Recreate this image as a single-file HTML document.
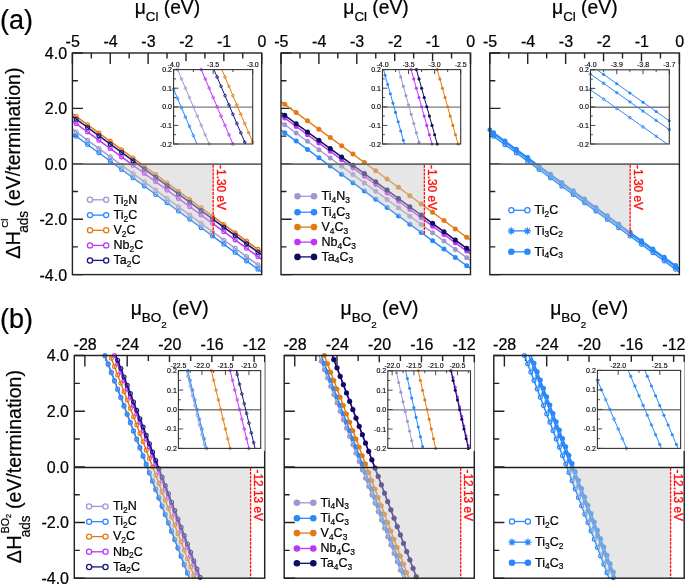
<!DOCTYPE html>
<html><head><meta charset="utf-8"><title>Figure</title>
<style>html,body{margin:0;padding:0;background:#fff;width:685px;height:585px;overflow:hidden}
svg{display:block;will-change:transform;font-family:"Liberation Sans", sans-serif}</style></head>
<body><svg width="685" height="585" viewBox="0 0 685 585" font-family='"Liberation Sans", sans-serif'><defs><clipPath id="c1"><rect x="72.4" y="53" width="189.3" height="221.6"/></clipPath><clipPath id="c2"><rect x="281" y="53" width="189.5" height="221.6"/></clipPath><clipPath id="c3"><rect x="489.8" y="53" width="189.6" height="221.6"/></clipPath><clipPath id="c4"><rect x="74.3" y="355.5" width="190.4" height="222.7"/></clipPath><clipPath id="c5"><rect x="284.2" y="355.5" width="190.1" height="222.7"/></clipPath><clipPath id="c6"><rect x="493.8" y="355.5" width="190.4" height="222.7"/></clipPath><clipPath id="c7"><rect x="173.6" y="69.6" width="79.1" height="74.4"/></clipPath><clipPath id="c8"><rect x="382.5" y="69.6" width="78.2" height="74.4"/></clipPath><clipPath id="c9"><rect x="590.5" y="69.8" width="78.8" height="74.2"/></clipPath><clipPath id="c10"><rect x="178.4" y="370.6" width="82.3" height="77.8"/></clipPath><clipPath id="c11"><rect x="387.8" y="370.8" width="82.7" height="77.6"/></clipPath><clipPath id="c12"><rect x="597.4" y="370.4" width="83.2" height="78"/></clipPath></defs><rect width="685" height="585" fill="#fff"/><path d="M72.4 53V64M110.26 53V64M148.12 53V64M185.98 53V64M223.84 53V64M261.7 53V64M91.33 53V58.5M129.19 53V58.5M167.05 53V58.5M204.91 53V58.5M242.77 53V58.5M72.4 53H83M72.4 108.4H83M72.4 163.8H83M72.4 219.2H83M72.4 274.6H83M72.4 80.7H77.9M72.4 136.1H77.9M72.4 191.5H77.9M72.4 246.9H77.9" stroke="#222222" stroke-width="1.4" fill="none"/>
<line x1="72.4" y1="129.18" x2="261.7" y2="267.68" stroke="#9a9ad2" stroke-width="1.45" clip-path="url(#c1)"/>
<circle cx="76.19" cy="131.94" r="1.95" fill="none" stroke="#9a9ad2" stroke-width="1.15"/>
<circle cx="87.54" cy="140.25" r="1.95" fill="none" stroke="#9a9ad2" stroke-width="1.15"/>
<circle cx="98.9" cy="148.56" r="1.95" fill="none" stroke="#9a9ad2" stroke-width="1.15"/>
<circle cx="110.26" cy="156.88" r="1.95" fill="none" stroke="#9a9ad2" stroke-width="1.15"/>
<circle cx="121.62" cy="165.19" r="1.95" fill="none" stroke="#9a9ad2" stroke-width="1.15"/>
<circle cx="132.98" cy="173.5" r="1.95" fill="none" stroke="#9a9ad2" stroke-width="1.15"/>
<circle cx="144.33" cy="181.81" r="1.95" fill="none" stroke="#9a9ad2" stroke-width="1.15"/>
<circle cx="155.69" cy="190.11" r="1.95" fill="none" stroke="#9a9ad2" stroke-width="1.15"/>
<circle cx="167.05" cy="198.43" r="1.95" fill="none" stroke="#9a9ad2" stroke-width="1.15"/>
<circle cx="178.41" cy="206.73" r="1.95" fill="none" stroke="#9a9ad2" stroke-width="1.15"/>
<circle cx="189.77" cy="215.05" r="1.95" fill="none" stroke="#9a9ad2" stroke-width="1.15"/>
<circle cx="201.12" cy="223.35" r="1.95" fill="none" stroke="#9a9ad2" stroke-width="1.15"/>
<circle cx="212.48" cy="231.66" r="1.95" fill="none" stroke="#9a9ad2" stroke-width="1.15"/>
<circle cx="223.84" cy="239.98" r="1.95" fill="none" stroke="#9a9ad2" stroke-width="1.15"/>
<circle cx="235.2" cy="248.29" r="1.95" fill="none" stroke="#9a9ad2" stroke-width="1.15"/>
<circle cx="246.56" cy="256.6" r="1.95" fill="none" stroke="#9a9ad2" stroke-width="1.15"/>
<circle cx="257.91" cy="264.9" r="1.95" fill="none" stroke="#9a9ad2" stroke-width="1.15"/>
<line x1="72.4" y1="133.47" x2="261.7" y2="271.97" stroke="#2a88f8" stroke-width="1.45" clip-path="url(#c1)"/>
<circle cx="76.19" cy="136.24" r="1.95" fill="none" stroke="#2a88f8" stroke-width="1.15"/>
<circle cx="87.54" cy="144.55" r="1.95" fill="none" stroke="#2a88f8" stroke-width="1.15"/>
<circle cx="98.9" cy="152.86" r="1.95" fill="none" stroke="#2a88f8" stroke-width="1.15"/>
<circle cx="110.26" cy="161.17" r="1.95" fill="none" stroke="#2a88f8" stroke-width="1.15"/>
<circle cx="121.62" cy="169.48" r="1.95" fill="none" stroke="#2a88f8" stroke-width="1.15"/>
<circle cx="132.98" cy="177.79" r="1.95" fill="none" stroke="#2a88f8" stroke-width="1.15"/>
<circle cx="144.33" cy="186.1" r="1.95" fill="none" stroke="#2a88f8" stroke-width="1.15"/>
<circle cx="155.69" cy="194.41" r="1.95" fill="none" stroke="#2a88f8" stroke-width="1.15"/>
<circle cx="167.05" cy="202.72" r="1.95" fill="none" stroke="#2a88f8" stroke-width="1.15"/>
<circle cx="178.41" cy="211.03" r="1.95" fill="none" stroke="#2a88f8" stroke-width="1.15"/>
<circle cx="189.77" cy="219.34" r="1.95" fill="none" stroke="#2a88f8" stroke-width="1.15"/>
<circle cx="201.12" cy="227.65" r="1.95" fill="none" stroke="#2a88f8" stroke-width="1.15"/>
<circle cx="212.48" cy="235.96" r="1.95" fill="none" stroke="#2a88f8" stroke-width="1.15"/>
<circle cx="223.84" cy="244.27" r="1.95" fill="none" stroke="#2a88f8" stroke-width="1.15"/>
<circle cx="235.2" cy="252.58" r="1.95" fill="none" stroke="#2a88f8" stroke-width="1.15"/>
<circle cx="246.56" cy="260.89" r="1.95" fill="none" stroke="#2a88f8" stroke-width="1.15"/>
<circle cx="257.91" cy="269.2" r="1.95" fill="none" stroke="#2a88f8" stroke-width="1.15"/>
<line x1="72.4" y1="113.66" x2="261.7" y2="252.16" stroke="#e27a14" stroke-width="1.45" clip-path="url(#c1)"/>
<circle cx="76.19" cy="116.43" r="1.95" fill="none" stroke="#e27a14" stroke-width="1.15"/>
<circle cx="87.54" cy="124.74" r="1.95" fill="none" stroke="#e27a14" stroke-width="1.15"/>
<circle cx="98.9" cy="133.05" r="1.95" fill="none" stroke="#e27a14" stroke-width="1.15"/>
<circle cx="110.26" cy="141.36" r="1.95" fill="none" stroke="#e27a14" stroke-width="1.15"/>
<circle cx="121.62" cy="149.67" r="1.95" fill="none" stroke="#e27a14" stroke-width="1.15"/>
<circle cx="132.98" cy="157.98" r="1.95" fill="none" stroke="#e27a14" stroke-width="1.15"/>
<circle cx="144.33" cy="166.29" r="1.95" fill="none" stroke="#e27a14" stroke-width="1.15"/>
<circle cx="155.69" cy="174.6" r="1.95" fill="none" stroke="#e27a14" stroke-width="1.15"/>
<circle cx="167.05" cy="182.91" r="1.95" fill="none" stroke="#e27a14" stroke-width="1.15"/>
<circle cx="178.41" cy="191.22" r="1.95" fill="none" stroke="#e27a14" stroke-width="1.15"/>
<circle cx="189.77" cy="199.53" r="1.95" fill="none" stroke="#e27a14" stroke-width="1.15"/>
<circle cx="201.12" cy="207.84" r="1.95" fill="none" stroke="#e27a14" stroke-width="1.15"/>
<circle cx="212.48" cy="216.15" r="1.95" fill="none" stroke="#e27a14" stroke-width="1.15"/>
<circle cx="223.84" cy="224.46" r="1.95" fill="none" stroke="#e27a14" stroke-width="1.15"/>
<circle cx="235.2" cy="232.77" r="1.95" fill="none" stroke="#e27a14" stroke-width="1.15"/>
<circle cx="246.56" cy="241.08" r="1.95" fill="none" stroke="#e27a14" stroke-width="1.15"/>
<circle cx="257.91" cy="249.39" r="1.95" fill="none" stroke="#e27a14" stroke-width="1.15"/>
<line x1="72.4" y1="120.87" x2="261.7" y2="259.37" stroke="#bd36f6" stroke-width="1.45" clip-path="url(#c1)"/>
<circle cx="76.19" cy="123.64" r="1.95" fill="none" stroke="#bd36f6" stroke-width="1.15"/>
<circle cx="87.54" cy="131.94" r="1.95" fill="none" stroke="#bd36f6" stroke-width="1.15"/>
<circle cx="98.9" cy="140.25" r="1.95" fill="none" stroke="#bd36f6" stroke-width="1.15"/>
<circle cx="110.26" cy="148.56" r="1.95" fill="none" stroke="#bd36f6" stroke-width="1.15"/>
<circle cx="121.62" cy="156.88" r="1.95" fill="none" stroke="#bd36f6" stroke-width="1.15"/>
<circle cx="132.98" cy="165.19" r="1.95" fill="none" stroke="#bd36f6" stroke-width="1.15"/>
<circle cx="144.33" cy="173.5" r="1.95" fill="none" stroke="#bd36f6" stroke-width="1.15"/>
<circle cx="155.69" cy="181.81" r="1.95" fill="none" stroke="#bd36f6" stroke-width="1.15"/>
<circle cx="167.05" cy="190.11" r="1.95" fill="none" stroke="#bd36f6" stroke-width="1.15"/>
<circle cx="178.41" cy="198.43" r="1.95" fill="none" stroke="#bd36f6" stroke-width="1.15"/>
<circle cx="189.77" cy="206.74" r="1.95" fill="none" stroke="#bd36f6" stroke-width="1.15"/>
<circle cx="201.12" cy="215.05" r="1.95" fill="none" stroke="#bd36f6" stroke-width="1.15"/>
<circle cx="212.48" cy="223.35" r="1.95" fill="none" stroke="#bd36f6" stroke-width="1.15"/>
<circle cx="223.84" cy="231.66" r="1.95" fill="none" stroke="#bd36f6" stroke-width="1.15"/>
<circle cx="235.2" cy="239.98" r="1.95" fill="none" stroke="#bd36f6" stroke-width="1.15"/>
<circle cx="246.56" cy="248.29" r="1.95" fill="none" stroke="#bd36f6" stroke-width="1.15"/>
<circle cx="257.91" cy="256.6" r="1.95" fill="none" stroke="#bd36f6" stroke-width="1.15"/>
<line x1="72.4" y1="116.43" x2="261.7" y2="254.93" stroke="#14147a" stroke-width="1.45" clip-path="url(#c1)"/>
<circle cx="76.19" cy="119.2" r="1.95" fill="none" stroke="#14147a" stroke-width="1.15"/>
<circle cx="87.54" cy="127.51" r="1.95" fill="none" stroke="#14147a" stroke-width="1.15"/>
<circle cx="98.9" cy="135.82" r="1.95" fill="none" stroke="#14147a" stroke-width="1.15"/>
<circle cx="110.26" cy="144.13" r="1.95" fill="none" stroke="#14147a" stroke-width="1.15"/>
<circle cx="121.62" cy="152.44" r="1.95" fill="none" stroke="#14147a" stroke-width="1.15"/>
<circle cx="132.98" cy="160.75" r="1.95" fill="none" stroke="#14147a" stroke-width="1.15"/>
<circle cx="144.33" cy="169.06" r="1.95" fill="none" stroke="#14147a" stroke-width="1.15"/>
<circle cx="155.69" cy="177.37" r="1.95" fill="none" stroke="#14147a" stroke-width="1.15"/>
<circle cx="167.05" cy="185.68" r="1.95" fill="none" stroke="#14147a" stroke-width="1.15"/>
<circle cx="178.41" cy="193.99" r="1.95" fill="none" stroke="#14147a" stroke-width="1.15"/>
<circle cx="189.77" cy="202.3" r="1.95" fill="none" stroke="#14147a" stroke-width="1.15"/>
<circle cx="201.12" cy="210.61" r="1.95" fill="none" stroke="#14147a" stroke-width="1.15"/>
<circle cx="212.48" cy="218.92" r="1.95" fill="none" stroke="#14147a" stroke-width="1.15"/>
<circle cx="223.84" cy="227.23" r="1.95" fill="none" stroke="#14147a" stroke-width="1.15"/>
<circle cx="235.2" cy="235.54" r="1.95" fill="none" stroke="#14147a" stroke-width="1.15"/>
<circle cx="246.56" cy="243.85" r="1.95" fill="none" stroke="#14147a" stroke-width="1.15"/>
<circle cx="257.91" cy="252.16" r="1.95" fill="none" stroke="#14147a" stroke-width="1.15"/>
<polygon points="113.86,163.8 213.2,163.8 213.2,236.48" fill="#c8c8c8" fill-opacity="0.45"/>
<line x1="72.4" y1="164.1" x2="261.7" y2="164.1" stroke="#686868" stroke-width="1.8"/>
<line x1="213.2" y1="164.8" x2="213.2" y2="236.48" stroke="#ff1010" stroke-width="1.3" stroke-dasharray="2.9 1.0"/>
<rect x="72.4" y="53" width="189.3" height="221.6" fill="none" stroke="#222222" stroke-width="1.4"/>
<text x="72.7" y="47.2" font-size="16" text-anchor="middle" fill="#000000" stroke="#000000" stroke-width="0.22">-5</text>
<text x="110.56" y="47.2" font-size="16" text-anchor="middle" fill="#000000" stroke="#000000" stroke-width="0.22">-4</text>
<text x="148.42" y="47.2" font-size="16" text-anchor="middle" fill="#000000" stroke="#000000" stroke-width="0.22">-3</text>
<text x="186.28" y="47.2" font-size="16" text-anchor="middle" fill="#000000" stroke="#000000" stroke-width="0.22">-2</text>
<text x="224.14" y="47.2" font-size="16" text-anchor="middle" fill="#000000" stroke="#000000" stroke-width="0.22">-1</text>
<text x="262" y="47.2" font-size="16" text-anchor="middle" fill="#000000" stroke="#000000" stroke-width="0.22">0</text>
<text x="67.1" y="58.9" font-size="16" text-anchor="end" fill="#000000" stroke="#000000" stroke-width="0.22">4.0</text>
<text x="67.1" y="114.3" font-size="16" text-anchor="end" fill="#000000" stroke="#000000" stroke-width="0.22">2.0</text>
<text x="67.1" y="169.7" font-size="16" text-anchor="end" fill="#000000" stroke="#000000" stroke-width="0.22">0.0</text>
<text x="67.1" y="225.1" font-size="16" text-anchor="end" fill="#000000" stroke="#000000" stroke-width="0.22">-2.0</text>
<text x="67.1" y="280.5" font-size="16" text-anchor="end" fill="#000000" stroke="#000000" stroke-width="0.22">-4.0</text>
<text x="216.7" y="165.1" font-size="11.9" fill="#ff1010" stroke="#ff1010" stroke-width="0.35" transform="rotate(90 216.7 165.1)">-1.30 eV</text>
<path d="M281 53V64M318.9 53V64M356.8 53V64M394.7 53V64M432.6 53V64M470.5 53V64M299.95 53V58.5M337.85 53V58.5M375.75 53V58.5M413.65 53V58.5M451.55 53V58.5M281 53H291.6M281 108.4H291.6M281 163.8H291.6M281 219.2H291.6M281 274.6H291.6M281 80.7H286.5M281 136.1H286.5M281 191.5H286.5M281 246.9H286.5" stroke="#222222" stroke-width="1.4" fill="none"/>
<line x1="281" y1="121.97" x2="470.5" y2="260.47" stroke="#9a9ad2" stroke-width="1.45" clip-path="url(#c2)"/>
<circle cx="284.79" cy="124.74" r="2.5" fill="#9a9ad2"/>
<circle cx="296.16" cy="133.05" r="2.5" fill="#9a9ad2"/>
<circle cx="307.53" cy="141.36" r="2.5" fill="#9a9ad2"/>
<circle cx="318.9" cy="149.67" r="2.5" fill="#9a9ad2"/>
<circle cx="330.27" cy="157.98" r="2.5" fill="#9a9ad2"/>
<circle cx="341.64" cy="166.29" r="2.5" fill="#9a9ad2"/>
<circle cx="353.01" cy="174.6" r="2.5" fill="#9a9ad2"/>
<circle cx="364.38" cy="182.91" r="2.5" fill="#9a9ad2"/>
<circle cx="375.75" cy="191.22" r="2.5" fill="#9a9ad2"/>
<circle cx="387.12" cy="199.53" r="2.5" fill="#9a9ad2"/>
<circle cx="398.49" cy="207.84" r="2.5" fill="#9a9ad2"/>
<circle cx="409.86" cy="216.15" r="2.5" fill="#9a9ad2"/>
<circle cx="421.23" cy="224.46" r="2.5" fill="#9a9ad2"/>
<circle cx="432.6" cy="232.77" r="2.5" fill="#9a9ad2"/>
<circle cx="443.97" cy="241.08" r="2.5" fill="#9a9ad2"/>
<circle cx="455.34" cy="249.39" r="2.5" fill="#9a9ad2"/>
<circle cx="466.71" cy="257.7" r="2.5" fill="#9a9ad2"/>
<line x1="281" y1="130.01" x2="470.5" y2="268.51" stroke="#2a88f8" stroke-width="1.45" clip-path="url(#c2)"/>
<circle cx="284.79" cy="132.78" r="2.5" fill="#2a88f8"/>
<circle cx="296.16" cy="141.09" r="2.5" fill="#2a88f8"/>
<circle cx="307.53" cy="149.4" r="2.5" fill="#2a88f8"/>
<circle cx="318.9" cy="157.71" r="2.5" fill="#2a88f8"/>
<circle cx="330.27" cy="166.02" r="2.5" fill="#2a88f8"/>
<circle cx="341.64" cy="174.33" r="2.5" fill="#2a88f8"/>
<circle cx="353.01" cy="182.64" r="2.5" fill="#2a88f8"/>
<circle cx="364.38" cy="190.95" r="2.5" fill="#2a88f8"/>
<circle cx="375.75" cy="199.26" r="2.5" fill="#2a88f8"/>
<circle cx="387.12" cy="207.57" r="2.5" fill="#2a88f8"/>
<circle cx="398.49" cy="215.88" r="2.5" fill="#2a88f8"/>
<circle cx="409.86" cy="224.19" r="2.5" fill="#2a88f8"/>
<circle cx="421.23" cy="232.5" r="2.5" fill="#2a88f8"/>
<circle cx="432.6" cy="240.81" r="2.5" fill="#2a88f8"/>
<circle cx="443.97" cy="249.12" r="2.5" fill="#2a88f8"/>
<circle cx="455.34" cy="257.43" r="2.5" fill="#2a88f8"/>
<circle cx="466.71" cy="265.74" r="2.5" fill="#2a88f8"/>
<line x1="281" y1="101.48" x2="470.5" y2="239.98" stroke="#e27a14" stroke-width="1.45" clip-path="url(#c2)"/>
<circle cx="284.79" cy="104.25" r="2.5" fill="#e27a14"/>
<circle cx="296.16" cy="112.55" r="2.5" fill="#e27a14"/>
<circle cx="307.53" cy="120.86" r="2.5" fill="#e27a14"/>
<circle cx="318.9" cy="129.18" r="2.5" fill="#e27a14"/>
<circle cx="330.27" cy="137.49" r="2.5" fill="#e27a14"/>
<circle cx="341.64" cy="145.8" r="2.5" fill="#e27a14"/>
<circle cx="353.01" cy="154.1" r="2.5" fill="#e27a14"/>
<circle cx="364.38" cy="162.42" r="2.5" fill="#e27a14"/>
<circle cx="375.75" cy="170.73" r="2.5" fill="#e27a14"/>
<circle cx="387.12" cy="179.03" r="2.5" fill="#e27a14"/>
<circle cx="398.49" cy="187.34" r="2.5" fill="#e27a14"/>
<circle cx="409.86" cy="195.66" r="2.5" fill="#e27a14"/>
<circle cx="421.23" cy="203.97" r="2.5" fill="#e27a14"/>
<circle cx="432.6" cy="212.28" r="2.5" fill="#e27a14"/>
<circle cx="443.97" cy="220.59" r="2.5" fill="#e27a14"/>
<circle cx="455.34" cy="228.9" r="2.5" fill="#e27a14"/>
<circle cx="466.71" cy="237.21" r="2.5" fill="#e27a14"/>
<line x1="281" y1="115.33" x2="470.5" y2="253.83" stroke="#bd36f6" stroke-width="1.45" clip-path="url(#c2)"/>
<circle cx="284.79" cy="118.09" r="2.5" fill="#bd36f6"/>
<circle cx="296.16" cy="126.4" r="2.5" fill="#bd36f6"/>
<circle cx="307.53" cy="134.71" r="2.5" fill="#bd36f6"/>
<circle cx="318.9" cy="143.03" r="2.5" fill="#bd36f6"/>
<circle cx="330.27" cy="151.34" r="2.5" fill="#bd36f6"/>
<circle cx="341.64" cy="159.64" r="2.5" fill="#bd36f6"/>
<circle cx="353.01" cy="167.95" r="2.5" fill="#bd36f6"/>
<circle cx="364.38" cy="176.26" r="2.5" fill="#bd36f6"/>
<circle cx="375.75" cy="184.58" r="2.5" fill="#bd36f6"/>
<circle cx="387.12" cy="192.88" r="2.5" fill="#bd36f6"/>
<circle cx="398.49" cy="201.19" r="2.5" fill="#bd36f6"/>
<circle cx="409.86" cy="209.5" r="2.5" fill="#bd36f6"/>
<circle cx="421.23" cy="217.81" r="2.5" fill="#bd36f6"/>
<circle cx="432.6" cy="226.13" r="2.5" fill="#bd36f6"/>
<circle cx="443.97" cy="234.44" r="2.5" fill="#bd36f6"/>
<circle cx="455.34" cy="242.75" r="2.5" fill="#bd36f6"/>
<circle cx="466.71" cy="251.06" r="2.5" fill="#bd36f6"/>
<line x1="281" y1="112.56" x2="470.5" y2="251.06" stroke="#0c0c62" stroke-width="1.45" clip-path="url(#c2)"/>
<circle cx="284.79" cy="115.32" r="2.5" fill="#0c0c62"/>
<circle cx="296.16" cy="123.63" r="2.5" fill="#0c0c62"/>
<circle cx="307.53" cy="131.94" r="2.5" fill="#0c0c62"/>
<circle cx="318.9" cy="140.25" r="2.5" fill="#0c0c62"/>
<circle cx="330.27" cy="148.56" r="2.5" fill="#0c0c62"/>
<circle cx="341.64" cy="156.88" r="2.5" fill="#0c0c62"/>
<circle cx="353.01" cy="165.19" r="2.5" fill="#0c0c62"/>
<circle cx="364.38" cy="173.5" r="2.5" fill="#0c0c62"/>
<circle cx="375.75" cy="181.81" r="2.5" fill="#0c0c62"/>
<circle cx="387.12" cy="190.11" r="2.5" fill="#0c0c62"/>
<circle cx="398.49" cy="198.43" r="2.5" fill="#0c0c62"/>
<circle cx="409.86" cy="206.73" r="2.5" fill="#0c0c62"/>
<circle cx="421.23" cy="215.05" r="2.5" fill="#0c0c62"/>
<circle cx="432.6" cy="223.35" r="2.5" fill="#0c0c62"/>
<circle cx="443.97" cy="231.66" r="2.5" fill="#0c0c62"/>
<circle cx="455.34" cy="239.98" r="2.5" fill="#0c0c62"/>
<circle cx="466.71" cy="248.28" r="2.5" fill="#0c0c62"/>
<polygon points="327.24,163.8 424.4,163.8 424.4,234.81" fill="#c8c8c8" fill-opacity="0.45"/>
<line x1="281" y1="164.1" x2="470.5" y2="164.1" stroke="#686868" stroke-width="1.8"/>
<line x1="424.4" y1="164.8" x2="424.4" y2="234.81" stroke="#ff1010" stroke-width="1.3" stroke-dasharray="2.9 1.0"/>
<rect x="281" y="53" width="189.5" height="221.6" fill="none" stroke="#222222" stroke-width="1.4"/>
<text x="281.3" y="47.2" font-size="16" text-anchor="middle" fill="#000000" stroke="#000000" stroke-width="0.22">-5</text>
<text x="319.2" y="47.2" font-size="16" text-anchor="middle" fill="#000000" stroke="#000000" stroke-width="0.22">-4</text>
<text x="357.1" y="47.2" font-size="16" text-anchor="middle" fill="#000000" stroke="#000000" stroke-width="0.22">-3</text>
<text x="395" y="47.2" font-size="16" text-anchor="middle" fill="#000000" stroke="#000000" stroke-width="0.22">-2</text>
<text x="432.9" y="47.2" font-size="16" text-anchor="middle" fill="#000000" stroke="#000000" stroke-width="0.22">-1</text>
<text x="470.8" y="47.2" font-size="16" text-anchor="middle" fill="#000000" stroke="#000000" stroke-width="0.22">0</text>
<text x="427.9" y="165.1" font-size="11.9" fill="#ff1010" stroke="#ff1010" stroke-width="0.35" transform="rotate(90 427.9 165.1)">-1.30 eV</text>
<path d="M489.8 53V64M527.72 53V64M565.64 53V64M603.56 53V64M641.48 53V64M679.4 53V64M508.76 53V58.5M546.68 53V58.5M584.6 53V58.5M622.52 53V58.5M660.44 53V58.5M489.8 53H500.4M489.8 108.4H500.4M489.8 163.8H500.4M489.8 219.2H500.4M489.8 274.6H500.4M489.8 80.7H495.3M489.8 136.1H495.3M489.8 191.5H495.3M489.8 246.9H495.3" stroke="#222222" stroke-width="1.4" fill="none"/>
<line x1="489.8" y1="133.55" x2="679.4" y2="272.05" stroke="#2a88f8" stroke-width="1.45" clip-path="url(#c3)"/>
<circle cx="493.59" cy="136.32" r="1.95" fill="none" stroke="#2a88f8" stroke-width="1.15"/>
<circle cx="504.97" cy="144.63" r="1.95" fill="none" stroke="#2a88f8" stroke-width="1.15"/>
<circle cx="516.34" cy="152.94" r="1.95" fill="none" stroke="#2a88f8" stroke-width="1.15"/>
<circle cx="527.72" cy="161.25" r="1.95" fill="none" stroke="#2a88f8" stroke-width="1.15"/>
<circle cx="539.1" cy="169.56" r="1.95" fill="none" stroke="#2a88f8" stroke-width="1.15"/>
<circle cx="550.47" cy="177.87" r="1.95" fill="none" stroke="#2a88f8" stroke-width="1.15"/>
<circle cx="561.85" cy="186.18" r="1.95" fill="none" stroke="#2a88f8" stroke-width="1.15"/>
<circle cx="573.22" cy="194.49" r="1.95" fill="none" stroke="#2a88f8" stroke-width="1.15"/>
<circle cx="584.6" cy="202.8" r="1.95" fill="none" stroke="#2a88f8" stroke-width="1.15"/>
<circle cx="595.98" cy="211.11" r="1.95" fill="none" stroke="#2a88f8" stroke-width="1.15"/>
<circle cx="607.35" cy="219.42" r="1.95" fill="none" stroke="#2a88f8" stroke-width="1.15"/>
<circle cx="618.73" cy="227.73" r="1.95" fill="none" stroke="#2a88f8" stroke-width="1.15"/>
<circle cx="630.1" cy="236.04" r="1.95" fill="none" stroke="#2a88f8" stroke-width="1.15"/>
<circle cx="641.48" cy="244.35" r="1.95" fill="none" stroke="#2a88f8" stroke-width="1.15"/>
<circle cx="652.86" cy="252.66" r="1.95" fill="none" stroke="#2a88f8" stroke-width="1.15"/>
<circle cx="664.23" cy="260.97" r="1.95" fill="none" stroke="#2a88f8" stroke-width="1.15"/>
<circle cx="675.61" cy="269.28" r="1.95" fill="none" stroke="#2a88f8" stroke-width="1.15"/>
<line x1="489.8" y1="131.2" x2="679.4" y2="269.7" stroke="#2a88f8" stroke-width="1.45" clip-path="url(#c3)"/>
<path d="M490.99 133.97L496.19 133.97M491.75 132.13L495.43 135.81M493.59 131.37L493.59 136.57M495.43 132.13L491.75 135.81" stroke="#2a88f8" stroke-width="1.15" fill="none"/>
<path d="M502.37 142.28L507.57 142.28M503.13 140.44L506.81 144.12M504.97 139.68L504.97 144.88M506.81 140.44L503.13 144.12" stroke="#2a88f8" stroke-width="1.15" fill="none"/>
<path d="M513.74 150.59L518.94 150.59M514.51 148.75L518.18 152.43M516.34 147.99L516.34 153.19M518.18 148.75L514.51 152.43" stroke="#2a88f8" stroke-width="1.15" fill="none"/>
<path d="M525.12 158.9L530.32 158.9M525.88 157.06L529.56 160.74M527.72 156.3L527.72 161.5M529.56 157.06L525.88 160.74" stroke="#2a88f8" stroke-width="1.15" fill="none"/>
<path d="M536.5 167.21L541.7 167.21M537.26 165.37L540.93 169.05M539.1 164.61L539.1 169.81M540.93 165.37L537.26 169.05" stroke="#2a88f8" stroke-width="1.15" fill="none"/>
<path d="M547.87 175.52L553.07 175.52M548.63 173.68L552.31 177.36M550.47 172.92L550.47 178.12M552.31 173.68L548.63 177.36" stroke="#2a88f8" stroke-width="1.15" fill="none"/>
<path d="M559.25 183.83L564.45 183.83M560.01 181.99L563.69 185.67M561.85 181.23L561.85 186.43M563.69 181.99L560.01 185.67" stroke="#2a88f8" stroke-width="1.15" fill="none"/>
<path d="M570.62 192.14L575.82 192.14M571.39 190.3L575.06 193.98M573.22 189.54L573.22 194.74M575.06 190.3L571.39 193.98" stroke="#2a88f8" stroke-width="1.15" fill="none"/>
<path d="M582 200.45L587.2 200.45M582.76 198.61L586.44 202.29M584.6 197.85L584.6 203.05M586.44 198.61L582.76 202.29" stroke="#2a88f8" stroke-width="1.15" fill="none"/>
<path d="M593.38 208.76L598.58 208.76M594.14 206.92L597.81 210.6M595.98 206.16L595.98 211.36M597.81 206.92L594.14 210.6" stroke="#2a88f8" stroke-width="1.15" fill="none"/>
<path d="M604.75 217.07L609.95 217.07M605.51 215.23L609.19 218.91M607.35 214.47L607.35 219.67M609.19 215.23L605.51 218.91" stroke="#2a88f8" stroke-width="1.15" fill="none"/>
<path d="M616.13 225.38L621.33 225.38M616.89 223.54L620.57 227.22M618.73 222.78L618.73 227.98M620.57 223.54L616.89 227.22" stroke="#2a88f8" stroke-width="1.15" fill="none"/>
<path d="M627.5 233.69L632.7 233.69M628.27 231.85L631.94 235.53M630.1 231.09L630.1 236.29M631.94 231.85L628.27 235.53" stroke="#2a88f8" stroke-width="1.15" fill="none"/>
<path d="M638.88 242L644.08 242M639.64 240.16L643.32 243.84M641.48 239.4L641.48 244.6M643.32 240.16L639.64 243.84" stroke="#2a88f8" stroke-width="1.15" fill="none"/>
<path d="M650.26 250.31L655.46 250.31M651.02 248.47L654.69 252.15M652.86 247.71L652.86 252.91M654.69 248.47L651.02 252.15" stroke="#2a88f8" stroke-width="1.15" fill="none"/>
<path d="M661.63 258.62L666.83 258.62M662.39 256.78L666.07 260.46M664.23 256.02L664.23 261.22M666.07 256.78L662.39 260.46" stroke="#2a88f8" stroke-width="1.15" fill="none"/>
<path d="M673.01 266.93L678.21 266.93M673.77 265.09L677.45 268.77M675.61 264.33L675.61 269.53M677.45 265.09L673.77 268.77" stroke="#2a88f8" stroke-width="1.15" fill="none"/>
<line x1="489.8" y1="129.87" x2="679.4" y2="268.37" stroke="#2a88f8" stroke-width="1.45" clip-path="url(#c3)"/>
<circle cx="493.59" cy="132.64" r="2.5" fill="#2a88f8"/>
<circle cx="504.97" cy="140.95" r="2.5" fill="#2a88f8"/>
<circle cx="516.34" cy="149.26" r="2.5" fill="#2a88f8"/>
<circle cx="527.72" cy="157.57" r="2.5" fill="#2a88f8"/>
<circle cx="539.1" cy="165.88" r="2.5" fill="#2a88f8"/>
<circle cx="550.47" cy="174.19" r="2.5" fill="#2a88f8"/>
<circle cx="561.85" cy="182.5" r="2.5" fill="#2a88f8"/>
<circle cx="573.22" cy="190.81" r="2.5" fill="#2a88f8"/>
<circle cx="584.6" cy="199.12" r="2.5" fill="#2a88f8"/>
<circle cx="595.98" cy="207.43" r="2.5" fill="#2a88f8"/>
<circle cx="607.35" cy="215.74" r="2.5" fill="#2a88f8"/>
<circle cx="618.73" cy="224.05" r="2.5" fill="#2a88f8"/>
<circle cx="630.1" cy="232.36" r="2.5" fill="#2a88f8"/>
<circle cx="641.48" cy="240.67" r="2.5" fill="#2a88f8"/>
<circle cx="652.86" cy="248.98" r="2.5" fill="#2a88f8"/>
<circle cx="664.23" cy="257.29" r="2.5" fill="#2a88f8"/>
<circle cx="675.61" cy="265.6" r="2.5" fill="#2a88f8"/>
<circle cx="489.8" cy="129.87" r="2.45" fill="#2a88f8"/>
<polygon points="531.21,163.8 630.2,163.8 630.2,236.11" fill="#c8c8c8" fill-opacity="0.45"/>
<line x1="489.8" y1="164.1" x2="679.4" y2="164.1" stroke="#686868" stroke-width="1.8"/>
<line x1="630.2" y1="164.8" x2="630.2" y2="236.11" stroke="#ff1010" stroke-width="1.3" stroke-dasharray="2.9 1.0"/>
<rect x="489.8" y="53" width="189.6" height="221.6" fill="none" stroke="#222222" stroke-width="1.4"/>
<text x="490.1" y="47.2" font-size="16" text-anchor="middle" fill="#000000" stroke="#000000" stroke-width="0.22">-5</text>
<text x="528.02" y="47.2" font-size="16" text-anchor="middle" fill="#000000" stroke="#000000" stroke-width="0.22">-4</text>
<text x="565.94" y="47.2" font-size="16" text-anchor="middle" fill="#000000" stroke="#000000" stroke-width="0.22">-3</text>
<text x="603.86" y="47.2" font-size="16" text-anchor="middle" fill="#000000" stroke="#000000" stroke-width="0.22">-2</text>
<text x="641.78" y="47.2" font-size="16" text-anchor="middle" fill="#000000" stroke="#000000" stroke-width="0.22">-1</text>
<text x="679.7" y="47.2" font-size="16" text-anchor="middle" fill="#000000" stroke="#000000" stroke-width="0.22">0</text>
<text x="633.7" y="165.1" font-size="11.9" fill="#ff1010" stroke="#ff1010" stroke-width="0.35" transform="rotate(90 633.7 165.1)">-1.30 eV</text>
<path d="M84.88 355.5V366.5M127.19 355.5V366.5M169.5 355.5V366.5M211.81 355.5V366.5M254.12 355.5V366.5M106.03 355.5V361M148.34 355.5V361M190.66 355.5V361M232.97 355.5V361M74.3 355.5H84.9M74.3 411.18H84.9M74.3 466.85H84.9M74.3 522.53H84.9M74.3 578.2H84.9M74.3 383.34H79.8M74.3 439.01H79.8M74.3 494.69H79.8M74.3 550.36H79.8" stroke="#222222" stroke-width="1.4" fill="none"/>
<line x1="74.3" y1="275.61" x2="264.7" y2="776.68" stroke="#9a9ad2" stroke-width="1.45" clip-path="url(#c4)"/>
<circle cx="104.98" cy="356.34" r="1.95" fill="none" stroke="#9a9ad2" stroke-width="1.15"/>
<circle cx="108.15" cy="364.69" r="1.95" fill="none" stroke="#9a9ad2" stroke-width="1.15"/>
<circle cx="111.32" cy="373.04" r="1.95" fill="none" stroke="#9a9ad2" stroke-width="1.15"/>
<circle cx="114.5" cy="381.39" r="1.95" fill="none" stroke="#9a9ad2" stroke-width="1.15"/>
<circle cx="117.67" cy="389.74" r="1.95" fill="none" stroke="#9a9ad2" stroke-width="1.15"/>
<circle cx="120.84" cy="398.09" r="1.95" fill="none" stroke="#9a9ad2" stroke-width="1.15"/>
<circle cx="124.02" cy="406.44" r="1.95" fill="none" stroke="#9a9ad2" stroke-width="1.15"/>
<circle cx="127.19" cy="414.79" r="1.95" fill="none" stroke="#9a9ad2" stroke-width="1.15"/>
<circle cx="130.36" cy="423.15" r="1.95" fill="none" stroke="#9a9ad2" stroke-width="1.15"/>
<circle cx="133.54" cy="431.5" r="1.95" fill="none" stroke="#9a9ad2" stroke-width="1.15"/>
<circle cx="136.71" cy="439.85" r="1.95" fill="none" stroke="#9a9ad2" stroke-width="1.15"/>
<circle cx="139.88" cy="448.2" r="1.95" fill="none" stroke="#9a9ad2" stroke-width="1.15"/>
<circle cx="143.06" cy="456.55" r="1.95" fill="none" stroke="#9a9ad2" stroke-width="1.15"/>
<circle cx="146.23" cy="464.9" r="1.95" fill="none" stroke="#9a9ad2" stroke-width="1.15"/>
<circle cx="149.4" cy="473.25" r="1.95" fill="none" stroke="#9a9ad2" stroke-width="1.15"/>
<circle cx="152.58" cy="481.6" r="1.95" fill="none" stroke="#9a9ad2" stroke-width="1.15"/>
<circle cx="155.75" cy="489.96" r="1.95" fill="none" stroke="#9a9ad2" stroke-width="1.15"/>
<circle cx="158.92" cy="498.31" r="1.95" fill="none" stroke="#9a9ad2" stroke-width="1.15"/>
<circle cx="162.1" cy="506.66" r="1.95" fill="none" stroke="#9a9ad2" stroke-width="1.15"/>
<circle cx="165.27" cy="515.01" r="1.95" fill="none" stroke="#9a9ad2" stroke-width="1.15"/>
<circle cx="168.44" cy="523.36" r="1.95" fill="none" stroke="#9a9ad2" stroke-width="1.15"/>
<circle cx="171.62" cy="531.71" r="1.95" fill="none" stroke="#9a9ad2" stroke-width="1.15"/>
<circle cx="174.79" cy="540.06" r="1.95" fill="none" stroke="#9a9ad2" stroke-width="1.15"/>
<circle cx="177.96" cy="548.41" r="1.95" fill="none" stroke="#9a9ad2" stroke-width="1.15"/>
<circle cx="181.14" cy="556.77" r="1.95" fill="none" stroke="#9a9ad2" stroke-width="1.15"/>
<circle cx="184.31" cy="565.12" r="1.95" fill="none" stroke="#9a9ad2" stroke-width="1.15"/>
<circle cx="187.48" cy="573.47" r="1.95" fill="none" stroke="#9a9ad2" stroke-width="1.15"/>
<line x1="74.3" y1="274.77" x2="264.7" y2="775.85" stroke="#2a88f8" stroke-width="1.45" clip-path="url(#c4)"/>
<circle cx="104.98" cy="355.5" r="1.95" fill="none" stroke="#2a88f8" stroke-width="1.15"/>
<circle cx="108.15" cy="363.85" r="1.95" fill="none" stroke="#2a88f8" stroke-width="1.15"/>
<circle cx="111.32" cy="372.2" r="1.95" fill="none" stroke="#2a88f8" stroke-width="1.15"/>
<circle cx="114.5" cy="380.55" r="1.95" fill="none" stroke="#2a88f8" stroke-width="1.15"/>
<circle cx="117.67" cy="388.91" r="1.95" fill="none" stroke="#2a88f8" stroke-width="1.15"/>
<circle cx="120.84" cy="397.26" r="1.95" fill="none" stroke="#2a88f8" stroke-width="1.15"/>
<circle cx="124.02" cy="405.61" r="1.95" fill="none" stroke="#2a88f8" stroke-width="1.15"/>
<circle cx="127.19" cy="413.96" r="1.95" fill="none" stroke="#2a88f8" stroke-width="1.15"/>
<circle cx="130.36" cy="422.31" r="1.95" fill="none" stroke="#2a88f8" stroke-width="1.15"/>
<circle cx="133.54" cy="430.66" r="1.95" fill="none" stroke="#2a88f8" stroke-width="1.15"/>
<circle cx="136.71" cy="439.01" r="1.95" fill="none" stroke="#2a88f8" stroke-width="1.15"/>
<circle cx="139.88" cy="447.36" r="1.95" fill="none" stroke="#2a88f8" stroke-width="1.15"/>
<circle cx="143.06" cy="455.72" r="1.95" fill="none" stroke="#2a88f8" stroke-width="1.15"/>
<circle cx="146.23" cy="464.07" r="1.95" fill="none" stroke="#2a88f8" stroke-width="1.15"/>
<circle cx="149.4" cy="472.42" r="1.95" fill="none" stroke="#2a88f8" stroke-width="1.15"/>
<circle cx="152.58" cy="480.77" r="1.95" fill="none" stroke="#2a88f8" stroke-width="1.15"/>
<circle cx="155.75" cy="489.12" r="1.95" fill="none" stroke="#2a88f8" stroke-width="1.15"/>
<circle cx="158.92" cy="497.47" r="1.95" fill="none" stroke="#2a88f8" stroke-width="1.15"/>
<circle cx="162.1" cy="505.82" r="1.95" fill="none" stroke="#2a88f8" stroke-width="1.15"/>
<circle cx="165.27" cy="514.17" r="1.95" fill="none" stroke="#2a88f8" stroke-width="1.15"/>
<circle cx="168.44" cy="522.53" r="1.95" fill="none" stroke="#2a88f8" stroke-width="1.15"/>
<circle cx="171.62" cy="530.88" r="1.95" fill="none" stroke="#2a88f8" stroke-width="1.15"/>
<circle cx="174.79" cy="539.23" r="1.95" fill="none" stroke="#2a88f8" stroke-width="1.15"/>
<circle cx="177.96" cy="547.58" r="1.95" fill="none" stroke="#2a88f8" stroke-width="1.15"/>
<circle cx="181.14" cy="555.93" r="1.95" fill="none" stroke="#2a88f8" stroke-width="1.15"/>
<circle cx="184.31" cy="564.28" r="1.95" fill="none" stroke="#2a88f8" stroke-width="1.15"/>
<circle cx="187.48" cy="572.63" r="1.95" fill="none" stroke="#2a88f8" stroke-width="1.15"/>
<line x1="74.3" y1="260.85" x2="264.7" y2="761.93" stroke="#e27a14" stroke-width="1.45" clip-path="url(#c4)"/>
<circle cx="111.32" cy="358.28" r="1.95" fill="none" stroke="#e27a14" stroke-width="1.15"/>
<circle cx="114.5" cy="366.64" r="1.95" fill="none" stroke="#e27a14" stroke-width="1.15"/>
<circle cx="117.67" cy="374.99" r="1.95" fill="none" stroke="#e27a14" stroke-width="1.15"/>
<circle cx="120.84" cy="383.34" r="1.95" fill="none" stroke="#e27a14" stroke-width="1.15"/>
<circle cx="124.02" cy="391.69" r="1.95" fill="none" stroke="#e27a14" stroke-width="1.15"/>
<circle cx="127.19" cy="400.04" r="1.95" fill="none" stroke="#e27a14" stroke-width="1.15"/>
<circle cx="130.36" cy="408.39" r="1.95" fill="none" stroke="#e27a14" stroke-width="1.15"/>
<circle cx="133.54" cy="416.74" r="1.95" fill="none" stroke="#e27a14" stroke-width="1.15"/>
<circle cx="136.71" cy="425.09" r="1.95" fill="none" stroke="#e27a14" stroke-width="1.15"/>
<circle cx="139.88" cy="433.45" r="1.95" fill="none" stroke="#e27a14" stroke-width="1.15"/>
<circle cx="143.06" cy="441.8" r="1.95" fill="none" stroke="#e27a14" stroke-width="1.15"/>
<circle cx="146.23" cy="450.15" r="1.95" fill="none" stroke="#e27a14" stroke-width="1.15"/>
<circle cx="149.4" cy="458.5" r="1.95" fill="none" stroke="#e27a14" stroke-width="1.15"/>
<circle cx="152.58" cy="466.85" r="1.95" fill="none" stroke="#e27a14" stroke-width="1.15"/>
<circle cx="155.75" cy="475.2" r="1.95" fill="none" stroke="#e27a14" stroke-width="1.15"/>
<circle cx="158.92" cy="483.55" r="1.95" fill="none" stroke="#e27a14" stroke-width="1.15"/>
<circle cx="162.1" cy="491.9" r="1.95" fill="none" stroke="#e27a14" stroke-width="1.15"/>
<circle cx="165.27" cy="500.26" r="1.95" fill="none" stroke="#e27a14" stroke-width="1.15"/>
<circle cx="168.44" cy="508.61" r="1.95" fill="none" stroke="#e27a14" stroke-width="1.15"/>
<circle cx="171.62" cy="516.96" r="1.95" fill="none" stroke="#e27a14" stroke-width="1.15"/>
<circle cx="174.79" cy="525.31" r="1.95" fill="none" stroke="#e27a14" stroke-width="1.15"/>
<circle cx="177.96" cy="533.66" r="1.95" fill="none" stroke="#e27a14" stroke-width="1.15"/>
<circle cx="181.14" cy="542.01" r="1.95" fill="none" stroke="#e27a14" stroke-width="1.15"/>
<circle cx="184.31" cy="550.36" r="1.95" fill="none" stroke="#e27a14" stroke-width="1.15"/>
<circle cx="187.48" cy="558.71" r="1.95" fill="none" stroke="#e27a14" stroke-width="1.15"/>
<circle cx="190.66" cy="567.07" r="1.95" fill="none" stroke="#e27a14" stroke-width="1.15"/>
<circle cx="193.83" cy="575.42" r="1.95" fill="none" stroke="#e27a14" stroke-width="1.15"/>
<line x1="74.3" y1="249.72" x2="264.7" y2="750.79" stroke="#bd36f6" stroke-width="1.45" clip-path="url(#c4)"/>
<circle cx="114.5" cy="355.5" r="1.95" fill="none" stroke="#bd36f6" stroke-width="1.15"/>
<circle cx="117.67" cy="363.85" r="1.95" fill="none" stroke="#bd36f6" stroke-width="1.15"/>
<circle cx="120.84" cy="372.2" r="1.95" fill="none" stroke="#bd36f6" stroke-width="1.15"/>
<circle cx="124.02" cy="380.55" r="1.95" fill="none" stroke="#bd36f6" stroke-width="1.15"/>
<circle cx="127.19" cy="388.9" r="1.95" fill="none" stroke="#bd36f6" stroke-width="1.15"/>
<circle cx="130.36" cy="397.26" r="1.95" fill="none" stroke="#bd36f6" stroke-width="1.15"/>
<circle cx="133.54" cy="405.61" r="1.95" fill="none" stroke="#bd36f6" stroke-width="1.15"/>
<circle cx="136.71" cy="413.96" r="1.95" fill="none" stroke="#bd36f6" stroke-width="1.15"/>
<circle cx="139.88" cy="422.31" r="1.95" fill="none" stroke="#bd36f6" stroke-width="1.15"/>
<circle cx="143.06" cy="430.66" r="1.95" fill="none" stroke="#bd36f6" stroke-width="1.15"/>
<circle cx="146.23" cy="439.01" r="1.95" fill="none" stroke="#bd36f6" stroke-width="1.15"/>
<circle cx="149.4" cy="447.36" r="1.95" fill="none" stroke="#bd36f6" stroke-width="1.15"/>
<circle cx="152.58" cy="455.71" r="1.95" fill="none" stroke="#bd36f6" stroke-width="1.15"/>
<circle cx="155.75" cy="464.07" r="1.95" fill="none" stroke="#bd36f6" stroke-width="1.15"/>
<circle cx="158.92" cy="472.42" r="1.95" fill="none" stroke="#bd36f6" stroke-width="1.15"/>
<circle cx="162.1" cy="480.77" r="1.95" fill="none" stroke="#bd36f6" stroke-width="1.15"/>
<circle cx="165.27" cy="489.12" r="1.95" fill="none" stroke="#bd36f6" stroke-width="1.15"/>
<circle cx="168.44" cy="497.47" r="1.95" fill="none" stroke="#bd36f6" stroke-width="1.15"/>
<circle cx="171.62" cy="505.82" r="1.95" fill="none" stroke="#bd36f6" stroke-width="1.15"/>
<circle cx="174.79" cy="514.17" r="1.95" fill="none" stroke="#bd36f6" stroke-width="1.15"/>
<circle cx="177.96" cy="522.52" r="1.95" fill="none" stroke="#bd36f6" stroke-width="1.15"/>
<circle cx="181.14" cy="530.88" r="1.95" fill="none" stroke="#bd36f6" stroke-width="1.15"/>
<circle cx="184.31" cy="539.23" r="1.95" fill="none" stroke="#bd36f6" stroke-width="1.15"/>
<circle cx="187.48" cy="547.58" r="1.95" fill="none" stroke="#bd36f6" stroke-width="1.15"/>
<circle cx="190.66" cy="555.93" r="1.95" fill="none" stroke="#bd36f6" stroke-width="1.15"/>
<circle cx="193.83" cy="564.28" r="1.95" fill="none" stroke="#bd36f6" stroke-width="1.15"/>
<circle cx="197" cy="572.63" r="1.95" fill="none" stroke="#bd36f6" stroke-width="1.15"/>
<line x1="74.3" y1="246.1" x2="264.7" y2="747.17" stroke="#14147a" stroke-width="1.45" clip-path="url(#c4)"/>
<circle cx="117.67" cy="360.23" r="1.95" fill="none" stroke="#14147a" stroke-width="1.15"/>
<circle cx="120.84" cy="368.58" r="1.95" fill="none" stroke="#14147a" stroke-width="1.15"/>
<circle cx="124.02" cy="376.93" r="1.95" fill="none" stroke="#14147a" stroke-width="1.15"/>
<circle cx="127.19" cy="385.29" r="1.95" fill="none" stroke="#14147a" stroke-width="1.15"/>
<circle cx="130.36" cy="393.64" r="1.95" fill="none" stroke="#14147a" stroke-width="1.15"/>
<circle cx="133.54" cy="401.99" r="1.95" fill="none" stroke="#14147a" stroke-width="1.15"/>
<circle cx="136.71" cy="410.34" r="1.95" fill="none" stroke="#14147a" stroke-width="1.15"/>
<circle cx="139.88" cy="418.69" r="1.95" fill="none" stroke="#14147a" stroke-width="1.15"/>
<circle cx="143.06" cy="427.04" r="1.95" fill="none" stroke="#14147a" stroke-width="1.15"/>
<circle cx="146.23" cy="435.39" r="1.95" fill="none" stroke="#14147a" stroke-width="1.15"/>
<circle cx="149.4" cy="443.74" r="1.95" fill="none" stroke="#14147a" stroke-width="1.15"/>
<circle cx="152.58" cy="452.1" r="1.95" fill="none" stroke="#14147a" stroke-width="1.15"/>
<circle cx="155.75" cy="460.45" r="1.95" fill="none" stroke="#14147a" stroke-width="1.15"/>
<circle cx="158.92" cy="468.8" r="1.95" fill="none" stroke="#14147a" stroke-width="1.15"/>
<circle cx="162.1" cy="477.15" r="1.95" fill="none" stroke="#14147a" stroke-width="1.15"/>
<circle cx="165.27" cy="485.5" r="1.95" fill="none" stroke="#14147a" stroke-width="1.15"/>
<circle cx="168.44" cy="493.85" r="1.95" fill="none" stroke="#14147a" stroke-width="1.15"/>
<circle cx="171.62" cy="502.2" r="1.95" fill="none" stroke="#14147a" stroke-width="1.15"/>
<circle cx="174.79" cy="510.55" r="1.95" fill="none" stroke="#14147a" stroke-width="1.15"/>
<circle cx="177.96" cy="518.91" r="1.95" fill="none" stroke="#14147a" stroke-width="1.15"/>
<circle cx="181.14" cy="527.26" r="1.95" fill="none" stroke="#14147a" stroke-width="1.15"/>
<circle cx="184.31" cy="535.61" r="1.95" fill="none" stroke="#14147a" stroke-width="1.15"/>
<circle cx="187.48" cy="543.96" r="1.95" fill="none" stroke="#14147a" stroke-width="1.15"/>
<circle cx="190.66" cy="552.31" r="1.95" fill="none" stroke="#14147a" stroke-width="1.15"/>
<circle cx="193.83" cy="560.66" r="1.95" fill="none" stroke="#14147a" stroke-width="1.15"/>
<circle cx="197" cy="569.01" r="1.95" fill="none" stroke="#14147a" stroke-width="1.15"/>
<circle cx="200.18" cy="577.36" r="1.95" fill="none" stroke="#14147a" stroke-width="1.15"/>
<polygon points="147.29,466.85 250.6,466.85 250.6,578.2 189.6,578.2" fill="#c8c8c8" fill-opacity="0.45"/>
<line x1="74.3" y1="467.45" x2="264.7" y2="467.45" stroke="#1c1c1c" stroke-width="1.4"/>
<line x1="250.6" y1="467.85" x2="250.6" y2="578.2" stroke="#ff1010" stroke-width="1.3" stroke-dasharray="2.9 1.0"/>
<rect x="74.3" y="355.5" width="190.4" height="222.7" fill="none" stroke="#222222" stroke-width="1.45"/>
<text x="85.18" y="349.7" font-size="16" text-anchor="middle" fill="#000000" stroke="#000000" stroke-width="0.22">-28</text>
<text x="127.49" y="349.7" font-size="16" text-anchor="middle" fill="#000000" stroke="#000000" stroke-width="0.22">-24</text>
<text x="169.8" y="349.7" font-size="16" text-anchor="middle" fill="#000000" stroke="#000000" stroke-width="0.22">-20</text>
<text x="212.11" y="349.7" font-size="16" text-anchor="middle" fill="#000000" stroke="#000000" stroke-width="0.22">-16</text>
<text x="254.42" y="349.7" font-size="16" text-anchor="middle" fill="#000000" stroke="#000000" stroke-width="0.22">-12</text>
<text x="69" y="361.4" font-size="16" text-anchor="end" fill="#000000" stroke="#000000" stroke-width="0.22">4.0</text>
<text x="69" y="417.07" font-size="16" text-anchor="end" fill="#000000" stroke="#000000" stroke-width="0.22">2.0</text>
<text x="69" y="472.75" font-size="16" text-anchor="end" fill="#000000" stroke="#000000" stroke-width="0.22">0.0</text>
<text x="69" y="528.43" font-size="16" text-anchor="end" fill="#000000" stroke="#000000" stroke-width="0.22">-2.0</text>
<text x="69" y="584.1" font-size="16" text-anchor="end" fill="#000000" stroke="#000000" stroke-width="0.22">-4.0</text>
<text x="254.1" y="469.45" font-size="11.9" fill="#ff1010" stroke="#ff1010" stroke-width="0.35" transform="rotate(90 254.1 469.45)">-12.13 eV</text>
<path d="M294.76 355.5V366.5M337.01 355.5V366.5M379.25 355.5V366.5M421.49 355.5V366.5M463.74 355.5V366.5M315.88 355.5V361M358.13 355.5V361M400.37 355.5V361M442.62 355.5V361M284.2 355.5H294.8M284.2 411.18H294.8M284.2 466.85H294.8M284.2 522.53H294.8M284.2 578.2H294.8M284.2 383.34H289.7M284.2 439.01H289.7M284.2 494.69H289.7M284.2 550.36H289.7" stroke="#222222" stroke-width="1.4" fill="none"/>
<line x1="284.2" y1="263.91" x2="474.3" y2="764.99" stroke="#9a9ad2" stroke-width="1.45" clip-path="url(#c5)"/>
<circle cx="321.16" cy="361.35" r="2.5" fill="#9a9ad2"/>
<circle cx="324.33" cy="369.7" r="2.5" fill="#9a9ad2"/>
<circle cx="327.5" cy="378.05" r="2.5" fill="#9a9ad2"/>
<circle cx="330.67" cy="386.4" r="2.5" fill="#9a9ad2"/>
<circle cx="333.84" cy="394.75" r="2.5" fill="#9a9ad2"/>
<circle cx="337.01" cy="403.1" r="2.5" fill="#9a9ad2"/>
<circle cx="340.17" cy="411.45" r="2.5" fill="#9a9ad2"/>
<circle cx="343.34" cy="419.8" r="2.5" fill="#9a9ad2"/>
<circle cx="346.51" cy="428.16" r="2.5" fill="#9a9ad2"/>
<circle cx="349.68" cy="436.51" r="2.5" fill="#9a9ad2"/>
<circle cx="352.85" cy="444.86" r="2.5" fill="#9a9ad2"/>
<circle cx="356.02" cy="453.21" r="2.5" fill="#9a9ad2"/>
<circle cx="359.18" cy="461.56" r="2.5" fill="#9a9ad2"/>
<circle cx="362.35" cy="469.91" r="2.5" fill="#9a9ad2"/>
<circle cx="365.52" cy="478.26" r="2.5" fill="#9a9ad2"/>
<circle cx="368.69" cy="486.61" r="2.5" fill="#9a9ad2"/>
<circle cx="371.86" cy="494.97" r="2.5" fill="#9a9ad2"/>
<circle cx="375.03" cy="503.32" r="2.5" fill="#9a9ad2"/>
<circle cx="378.19" cy="511.67" r="2.5" fill="#9a9ad2"/>
<circle cx="381.36" cy="520.02" r="2.5" fill="#9a9ad2"/>
<circle cx="384.53" cy="528.37" r="2.5" fill="#9a9ad2"/>
<circle cx="387.7" cy="536.72" r="2.5" fill="#9a9ad2"/>
<circle cx="390.87" cy="545.07" r="2.5" fill="#9a9ad2"/>
<circle cx="394.04" cy="553.42" r="2.5" fill="#9a9ad2"/>
<circle cx="397.2" cy="561.78" r="2.5" fill="#9a9ad2"/>
<circle cx="400.37" cy="570.13" r="2.5" fill="#9a9ad2"/>
<line x1="284.2" y1="257.79" x2="474.3" y2="758.87" stroke="#2a88f8" stroke-width="1.45" clip-path="url(#c5)"/>
<circle cx="324.33" cy="363.57" r="2.5" fill="#2a88f8"/>
<circle cx="327.5" cy="371.92" r="2.5" fill="#2a88f8"/>
<circle cx="330.67" cy="380.28" r="2.5" fill="#2a88f8"/>
<circle cx="333.84" cy="388.63" r="2.5" fill="#2a88f8"/>
<circle cx="337.01" cy="396.98" r="2.5" fill="#2a88f8"/>
<circle cx="340.17" cy="405.33" r="2.5" fill="#2a88f8"/>
<circle cx="343.34" cy="413.68" r="2.5" fill="#2a88f8"/>
<circle cx="346.51" cy="422.03" r="2.5" fill="#2a88f8"/>
<circle cx="349.68" cy="430.38" r="2.5" fill="#2a88f8"/>
<circle cx="352.85" cy="438.73" r="2.5" fill="#2a88f8"/>
<circle cx="356.02" cy="447.09" r="2.5" fill="#2a88f8"/>
<circle cx="359.18" cy="455.44" r="2.5" fill="#2a88f8"/>
<circle cx="362.35" cy="463.79" r="2.5" fill="#2a88f8"/>
<circle cx="365.52" cy="472.14" r="2.5" fill="#2a88f8"/>
<circle cx="368.69" cy="480.49" r="2.5" fill="#2a88f8"/>
<circle cx="371.86" cy="488.84" r="2.5" fill="#2a88f8"/>
<circle cx="375.03" cy="497.19" r="2.5" fill="#2a88f8"/>
<circle cx="378.19" cy="505.54" r="2.5" fill="#2a88f8"/>
<circle cx="381.36" cy="513.9" r="2.5" fill="#2a88f8"/>
<circle cx="384.53" cy="522.25" r="2.5" fill="#2a88f8"/>
<circle cx="387.7" cy="530.6" r="2.5" fill="#2a88f8"/>
<circle cx="390.87" cy="538.95" r="2.5" fill="#2a88f8"/>
<circle cx="394.04" cy="547.3" r="2.5" fill="#2a88f8"/>
<circle cx="397.2" cy="555.65" r="2.5" fill="#2a88f8"/>
<circle cx="400.37" cy="564" r="2.5" fill="#2a88f8"/>
<circle cx="403.54" cy="572.35" r="2.5" fill="#2a88f8"/>
<line x1="284.2" y1="249.72" x2="474.3" y2="750.79" stroke="#e27a14" stroke-width="1.45" clip-path="url(#c5)"/>
<circle cx="324.33" cy="355.5" r="2.5" fill="#e27a14"/>
<circle cx="327.5" cy="363.85" r="2.5" fill="#e27a14"/>
<circle cx="330.67" cy="372.2" r="2.5" fill="#e27a14"/>
<circle cx="333.84" cy="380.55" r="2.5" fill="#e27a14"/>
<circle cx="337.01" cy="388.9" r="2.5" fill="#e27a14"/>
<circle cx="340.17" cy="397.26" r="2.5" fill="#e27a14"/>
<circle cx="343.34" cy="405.61" r="2.5" fill="#e27a14"/>
<circle cx="346.51" cy="413.96" r="2.5" fill="#e27a14"/>
<circle cx="349.68" cy="422.31" r="2.5" fill="#e27a14"/>
<circle cx="352.85" cy="430.66" r="2.5" fill="#e27a14"/>
<circle cx="356.02" cy="439.01" r="2.5" fill="#e27a14"/>
<circle cx="359.18" cy="447.36" r="2.5" fill="#e27a14"/>
<circle cx="362.35" cy="455.71" r="2.5" fill="#e27a14"/>
<circle cx="365.52" cy="464.07" r="2.5" fill="#e27a14"/>
<circle cx="368.69" cy="472.42" r="2.5" fill="#e27a14"/>
<circle cx="371.86" cy="480.77" r="2.5" fill="#e27a14"/>
<circle cx="375.03" cy="489.12" r="2.5" fill="#e27a14"/>
<circle cx="378.19" cy="497.47" r="2.5" fill="#e27a14"/>
<circle cx="381.36" cy="505.82" r="2.5" fill="#e27a14"/>
<circle cx="384.53" cy="514.17" r="2.5" fill="#e27a14"/>
<circle cx="387.7" cy="522.52" r="2.5" fill="#e27a14"/>
<circle cx="390.87" cy="530.88" r="2.5" fill="#e27a14"/>
<circle cx="394.04" cy="539.23" r="2.5" fill="#e27a14"/>
<circle cx="397.2" cy="547.58" r="2.5" fill="#e27a14"/>
<circle cx="400.37" cy="555.93" r="2.5" fill="#e27a14"/>
<circle cx="403.54" cy="564.28" r="2.5" fill="#e27a14"/>
<circle cx="406.71" cy="572.63" r="2.5" fill="#e27a14"/>
<line x1="284.2" y1="228.42" x2="474.3" y2="729.5" stroke="#bd36f6" stroke-width="1.45" clip-path="url(#c5)"/>
<circle cx="333.84" cy="359.26" r="2.5" fill="#bd36f6"/>
<circle cx="337.01" cy="367.61" r="2.5" fill="#bd36f6"/>
<circle cx="340.17" cy="375.96" r="2.5" fill="#bd36f6"/>
<circle cx="343.34" cy="384.31" r="2.5" fill="#bd36f6"/>
<circle cx="346.51" cy="392.66" r="2.5" fill="#bd36f6"/>
<circle cx="349.68" cy="401.01" r="2.5" fill="#bd36f6"/>
<circle cx="352.85" cy="409.37" r="2.5" fill="#bd36f6"/>
<circle cx="356.02" cy="417.72" r="2.5" fill="#bd36f6"/>
<circle cx="359.18" cy="426.07" r="2.5" fill="#bd36f6"/>
<circle cx="362.35" cy="434.42" r="2.5" fill="#bd36f6"/>
<circle cx="365.52" cy="442.77" r="2.5" fill="#bd36f6"/>
<circle cx="368.69" cy="451.12" r="2.5" fill="#bd36f6"/>
<circle cx="371.86" cy="459.47" r="2.5" fill="#bd36f6"/>
<circle cx="375.03" cy="467.82" r="2.5" fill="#bd36f6"/>
<circle cx="378.19" cy="476.18" r="2.5" fill="#bd36f6"/>
<circle cx="381.36" cy="484.53" r="2.5" fill="#bd36f6"/>
<circle cx="384.53" cy="492.88" r="2.5" fill="#bd36f6"/>
<circle cx="387.7" cy="501.23" r="2.5" fill="#bd36f6"/>
<circle cx="390.87" cy="509.58" r="2.5" fill="#bd36f6"/>
<circle cx="394.04" cy="517.93" r="2.5" fill="#bd36f6"/>
<circle cx="397.2" cy="526.28" r="2.5" fill="#bd36f6"/>
<circle cx="400.37" cy="534.63" r="2.5" fill="#bd36f6"/>
<circle cx="403.54" cy="542.99" r="2.5" fill="#bd36f6"/>
<circle cx="406.71" cy="551.34" r="2.5" fill="#bd36f6"/>
<circle cx="409.88" cy="559.69" r="2.5" fill="#bd36f6"/>
<circle cx="413.05" cy="568.04" r="2.5" fill="#bd36f6"/>
<circle cx="416.21" cy="576.39" r="2.5" fill="#bd36f6"/>
<line x1="284.2" y1="228.84" x2="474.3" y2="729.91" stroke="#0c0c62" stroke-width="1.45" clip-path="url(#c5)"/>
<circle cx="333.84" cy="359.68" r="2.5" fill="#0c0c62"/>
<circle cx="337.01" cy="368.03" r="2.5" fill="#0c0c62"/>
<circle cx="340.17" cy="376.38" r="2.5" fill="#0c0c62"/>
<circle cx="343.34" cy="384.73" r="2.5" fill="#0c0c62"/>
<circle cx="346.51" cy="393.08" r="2.5" fill="#0c0c62"/>
<circle cx="349.68" cy="401.43" r="2.5" fill="#0c0c62"/>
<circle cx="352.85" cy="409.78" r="2.5" fill="#0c0c62"/>
<circle cx="356.02" cy="418.13" r="2.5" fill="#0c0c62"/>
<circle cx="359.18" cy="426.49" r="2.5" fill="#0c0c62"/>
<circle cx="362.35" cy="434.84" r="2.5" fill="#0c0c62"/>
<circle cx="365.52" cy="443.19" r="2.5" fill="#0c0c62"/>
<circle cx="368.69" cy="451.54" r="2.5" fill="#0c0c62"/>
<circle cx="371.86" cy="459.89" r="2.5" fill="#0c0c62"/>
<circle cx="375.03" cy="468.24" r="2.5" fill="#0c0c62"/>
<circle cx="378.19" cy="476.59" r="2.5" fill="#0c0c62"/>
<circle cx="381.36" cy="484.94" r="2.5" fill="#0c0c62"/>
<circle cx="384.53" cy="493.3" r="2.5" fill="#0c0c62"/>
<circle cx="387.7" cy="501.65" r="2.5" fill="#0c0c62"/>
<circle cx="390.87" cy="510" r="2.5" fill="#0c0c62"/>
<circle cx="394.04" cy="518.35" r="2.5" fill="#0c0c62"/>
<circle cx="397.2" cy="526.7" r="2.5" fill="#0c0c62"/>
<circle cx="400.37" cy="535.05" r="2.5" fill="#0c0c62"/>
<circle cx="403.54" cy="543.4" r="2.5" fill="#0c0c62"/>
<circle cx="406.71" cy="551.75" r="2.5" fill="#0c0c62"/>
<circle cx="409.88" cy="560.11" r="2.5" fill="#0c0c62"/>
<circle cx="413.05" cy="568.46" r="2.5" fill="#0c0c62"/>
<circle cx="416.21" cy="576.81" r="2.5" fill="#0c0c62"/>
<polygon points="361.19,466.85 460.7,466.85 460.7,578.2 403.43,578.2" fill="#c8c8c8" fill-opacity="0.45"/>
<line x1="284.2" y1="467.45" x2="474.3" y2="467.45" stroke="#1c1c1c" stroke-width="1.4"/>
<line x1="460.7" y1="467.85" x2="460.7" y2="578.2" stroke="#ff1010" stroke-width="1.3" stroke-dasharray="2.9 1.0"/>
<rect x="284.2" y="355.5" width="190.1" height="222.7" fill="none" stroke="#222222" stroke-width="1.45"/>
<text x="295.06" y="349.7" font-size="16" text-anchor="middle" fill="#000000" stroke="#000000" stroke-width="0.22">-28</text>
<text x="337.31" y="349.7" font-size="16" text-anchor="middle" fill="#000000" stroke="#000000" stroke-width="0.22">-24</text>
<text x="379.55" y="349.7" font-size="16" text-anchor="middle" fill="#000000" stroke="#000000" stroke-width="0.22">-20</text>
<text x="421.79" y="349.7" font-size="16" text-anchor="middle" fill="#000000" stroke="#000000" stroke-width="0.22">-16</text>
<text x="464.04" y="349.7" font-size="16" text-anchor="middle" fill="#000000" stroke="#000000" stroke-width="0.22">-12</text>
<text x="464.2" y="469.45" font-size="11.9" fill="#ff1010" stroke="#ff1010" stroke-width="0.35" transform="rotate(90 464.2 469.45)">-12.13 eV</text>
<path d="M504.38 355.5V366.5M546.69 355.5V366.5M589 355.5V366.5M631.31 355.5V366.5M673.62 355.5V366.5M525.53 355.5V361M567.84 355.5V361M610.16 355.5V361M652.47 355.5V361M493.8 355.5H504.4M493.8 411.18H504.4M493.8 466.85H504.4M493.8 522.53H504.4M493.8 578.2H504.4M493.8 383.34H499.3M493.8 439.01H499.3M493.8 494.69H499.3M493.8 550.36H499.3" stroke="#222222" stroke-width="1.4" fill="none"/>
<line x1="493.8" y1="274.77" x2="684.2" y2="775.85" stroke="#2a88f8" stroke-width="1.45" clip-path="url(#c6)"/>
<circle cx="524.48" cy="355.5" r="1.95" fill="none" stroke="#2a88f8" stroke-width="1.15"/>
<circle cx="527.65" cy="363.85" r="1.95" fill="none" stroke="#2a88f8" stroke-width="1.15"/>
<circle cx="530.82" cy="372.2" r="1.95" fill="none" stroke="#2a88f8" stroke-width="1.15"/>
<circle cx="534" cy="380.55" r="1.95" fill="none" stroke="#2a88f8" stroke-width="1.15"/>
<circle cx="537.17" cy="388.91" r="1.95" fill="none" stroke="#2a88f8" stroke-width="1.15"/>
<circle cx="540.34" cy="397.26" r="1.95" fill="none" stroke="#2a88f8" stroke-width="1.15"/>
<circle cx="543.52" cy="405.61" r="1.95" fill="none" stroke="#2a88f8" stroke-width="1.15"/>
<circle cx="546.69" cy="413.96" r="1.95" fill="none" stroke="#2a88f8" stroke-width="1.15"/>
<circle cx="549.86" cy="422.31" r="1.95" fill="none" stroke="#2a88f8" stroke-width="1.15"/>
<circle cx="553.04" cy="430.66" r="1.95" fill="none" stroke="#2a88f8" stroke-width="1.15"/>
<circle cx="556.21" cy="439.01" r="1.95" fill="none" stroke="#2a88f8" stroke-width="1.15"/>
<circle cx="559.38" cy="447.36" r="1.95" fill="none" stroke="#2a88f8" stroke-width="1.15"/>
<circle cx="562.56" cy="455.72" r="1.95" fill="none" stroke="#2a88f8" stroke-width="1.15"/>
<circle cx="565.73" cy="464.07" r="1.95" fill="none" stroke="#2a88f8" stroke-width="1.15"/>
<circle cx="568.9" cy="472.42" r="1.95" fill="none" stroke="#2a88f8" stroke-width="1.15"/>
<circle cx="572.08" cy="480.77" r="1.95" fill="none" stroke="#2a88f8" stroke-width="1.15"/>
<circle cx="575.25" cy="489.12" r="1.95" fill="none" stroke="#2a88f8" stroke-width="1.15"/>
<circle cx="578.42" cy="497.47" r="1.95" fill="none" stroke="#2a88f8" stroke-width="1.15"/>
<circle cx="581.6" cy="505.82" r="1.95" fill="none" stroke="#2a88f8" stroke-width="1.15"/>
<circle cx="584.77" cy="514.17" r="1.95" fill="none" stroke="#2a88f8" stroke-width="1.15"/>
<circle cx="587.94" cy="522.53" r="1.95" fill="none" stroke="#2a88f8" stroke-width="1.15"/>
<circle cx="591.12" cy="530.88" r="1.95" fill="none" stroke="#2a88f8" stroke-width="1.15"/>
<circle cx="594.29" cy="539.23" r="1.95" fill="none" stroke="#2a88f8" stroke-width="1.15"/>
<circle cx="597.46" cy="547.58" r="1.95" fill="none" stroke="#2a88f8" stroke-width="1.15"/>
<circle cx="600.64" cy="555.93" r="1.95" fill="none" stroke="#2a88f8" stroke-width="1.15"/>
<circle cx="603.81" cy="564.28" r="1.95" fill="none" stroke="#2a88f8" stroke-width="1.15"/>
<circle cx="606.98" cy="572.63" r="1.95" fill="none" stroke="#2a88f8" stroke-width="1.15"/>
<line x1="493.8" y1="263.08" x2="684.2" y2="764.15" stroke="#2a88f8" stroke-width="1.45" clip-path="url(#c6)"/>
<path d="M528.22 360.51L533.42 360.51M528.98 358.67L532.66 362.35M530.82 357.91L530.82 363.11M532.66 358.67L528.98 362.35" stroke="#2a88f8" stroke-width="1.15" fill="none"/>
<path d="M531.4 368.86L536.6 368.86M532.16 367.02L535.83 370.7M534 366.26L534 371.46M535.83 367.02L532.16 370.7" stroke="#2a88f8" stroke-width="1.15" fill="none"/>
<path d="M534.57 377.21L539.77 377.21M535.33 375.37L539.01 379.05M537.17 374.61L537.17 379.81M539.01 375.37L535.33 379.05" stroke="#2a88f8" stroke-width="1.15" fill="none"/>
<path d="M537.74 385.56L542.94 385.56M538.5 383.73L542.18 387.4M540.34 382.96L540.34 388.16M542.18 383.73L538.5 387.4" stroke="#2a88f8" stroke-width="1.15" fill="none"/>
<path d="M540.92 393.92L546.12 393.92M541.68 392.08L545.35 395.75M543.52 391.32L543.52 396.52M545.35 392.08L541.68 395.75" stroke="#2a88f8" stroke-width="1.15" fill="none"/>
<path d="M544.09 402.27L549.29 402.27M544.85 400.43L548.53 404.11M546.69 399.67L546.69 404.87M548.53 400.43L544.85 404.11" stroke="#2a88f8" stroke-width="1.15" fill="none"/>
<path d="M547.26 410.62L552.46 410.62M548.02 408.78L551.7 412.46M549.86 408.02L549.86 413.22M551.7 408.78L548.02 412.46" stroke="#2a88f8" stroke-width="1.15" fill="none"/>
<path d="M550.44 418.97L555.64 418.97M551.2 417.13L554.87 420.81M553.04 416.37L553.04 421.57M554.87 417.13L551.2 420.81" stroke="#2a88f8" stroke-width="1.15" fill="none"/>
<path d="M553.61 427.32L558.81 427.32M554.37 425.48L558.05 429.16M556.21 424.72L556.21 429.92M558.05 425.48L554.37 429.16" stroke="#2a88f8" stroke-width="1.15" fill="none"/>
<path d="M556.78 435.67L561.98 435.67M557.54 433.83L561.22 437.51M559.38 433.07L559.38 438.27M561.22 433.83L557.54 437.51" stroke="#2a88f8" stroke-width="1.15" fill="none"/>
<path d="M559.96 444.02L565.16 444.02M560.72 442.18L564.39 445.86M562.56 441.42L562.56 446.62M564.39 442.18L560.72 445.86" stroke="#2a88f8" stroke-width="1.15" fill="none"/>
<path d="M563.13 452.37L568.33 452.37M563.89 450.54L567.57 454.21M565.73 449.77L565.73 454.97M567.57 450.54L563.89 454.21" stroke="#2a88f8" stroke-width="1.15" fill="none"/>
<path d="M566.3 460.73L571.5 460.73M567.06 458.89L570.74 462.56M568.9 458.13L568.9 463.33M570.74 458.89L567.06 462.56" stroke="#2a88f8" stroke-width="1.15" fill="none"/>
<path d="M569.48 469.08L574.68 469.08M570.24 467.24L573.91 470.92M572.08 466.48L572.08 471.68M573.91 467.24L570.24 470.92" stroke="#2a88f8" stroke-width="1.15" fill="none"/>
<path d="M572.65 477.43L577.85 477.43M573.41 475.59L577.09 479.27M575.25 474.83L575.25 480.03M577.09 475.59L573.41 479.27" stroke="#2a88f8" stroke-width="1.15" fill="none"/>
<path d="M575.82 485.78L581.02 485.78M576.58 483.94L580.26 487.62M578.42 483.18L578.42 488.38M580.26 483.94L576.58 487.62" stroke="#2a88f8" stroke-width="1.15" fill="none"/>
<path d="M579 494.13L584.2 494.13M579.76 492.29L583.43 495.97M581.6 491.53L581.6 496.73M583.43 492.29L579.76 495.97" stroke="#2a88f8" stroke-width="1.15" fill="none"/>
<path d="M582.17 502.48L587.37 502.48M582.93 500.64L586.61 504.32M584.77 499.88L584.77 505.08M586.61 500.64L582.93 504.32" stroke="#2a88f8" stroke-width="1.15" fill="none"/>
<path d="M585.34 510.83L590.54 510.83M586.1 508.99L589.78 512.67M587.94 508.23L587.94 513.43M589.78 508.99L586.1 512.67" stroke="#2a88f8" stroke-width="1.15" fill="none"/>
<path d="M588.52 519.18L593.72 519.18M589.28 517.35L592.95 521.02M591.12 516.58L591.12 521.78M592.95 517.35L589.28 521.02" stroke="#2a88f8" stroke-width="1.15" fill="none"/>
<path d="M591.69 527.54L596.89 527.54M592.45 525.7L596.13 529.37M594.29 524.94L594.29 530.14M596.13 525.7L592.45 529.37" stroke="#2a88f8" stroke-width="1.15" fill="none"/>
<path d="M594.86 535.89L600.06 535.89M595.62 534.05L599.3 537.73M597.46 533.29L597.46 538.49M599.3 534.05L595.62 537.73" stroke="#2a88f8" stroke-width="1.15" fill="none"/>
<path d="M598.04 544.24L603.24 544.24M598.8 542.4L602.47 546.08M600.64 541.64L600.64 546.84M602.47 542.4L598.8 546.08" stroke="#2a88f8" stroke-width="1.15" fill="none"/>
<path d="M601.21 552.59L606.41 552.59M601.97 550.75L605.65 554.43M603.81 549.99L603.81 555.19M605.65 550.75L601.97 554.43" stroke="#2a88f8" stroke-width="1.15" fill="none"/>
<path d="M604.38 560.94L609.58 560.94M605.14 559.1L608.82 562.78M606.98 558.34L606.98 563.54M608.82 559.1L605.14 562.78" stroke="#2a88f8" stroke-width="1.15" fill="none"/>
<path d="M607.56 569.29L612.76 569.29M608.32 567.45L611.99 571.13M610.16 566.69L610.16 571.89M611.99 567.45L608.32 571.13" stroke="#2a88f8" stroke-width="1.15" fill="none"/>
<path d="M610.73 577.64L615.93 577.64M611.49 575.8L615.17 579.48M613.33 575.04L613.33 580.24M615.17 575.8L611.49 579.48" stroke="#2a88f8" stroke-width="1.15" fill="none"/>
<line x1="493.8" y1="257.51" x2="684.2" y2="758.59" stroke="#2a88f8" stroke-width="1.45" clip-path="url(#c6)"/>
<circle cx="534" cy="363.29" r="2.5" fill="#2a88f8"/>
<circle cx="537.17" cy="371.65" r="2.5" fill="#2a88f8"/>
<circle cx="540.34" cy="380" r="2.5" fill="#2a88f8"/>
<circle cx="543.52" cy="388.35" r="2.5" fill="#2a88f8"/>
<circle cx="546.69" cy="396.7" r="2.5" fill="#2a88f8"/>
<circle cx="549.86" cy="405.05" r="2.5" fill="#2a88f8"/>
<circle cx="553.04" cy="413.4" r="2.5" fill="#2a88f8"/>
<circle cx="556.21" cy="421.75" r="2.5" fill="#2a88f8"/>
<circle cx="559.38" cy="430.1" r="2.5" fill="#2a88f8"/>
<circle cx="562.56" cy="438.46" r="2.5" fill="#2a88f8"/>
<circle cx="565.73" cy="446.81" r="2.5" fill="#2a88f8"/>
<circle cx="568.9" cy="455.16" r="2.5" fill="#2a88f8"/>
<circle cx="572.08" cy="463.51" r="2.5" fill="#2a88f8"/>
<circle cx="575.25" cy="471.86" r="2.5" fill="#2a88f8"/>
<circle cx="578.42" cy="480.21" r="2.5" fill="#2a88f8"/>
<circle cx="581.6" cy="488.56" r="2.5" fill="#2a88f8"/>
<circle cx="584.77" cy="496.91" r="2.5" fill="#2a88f8"/>
<circle cx="587.94" cy="505.27" r="2.5" fill="#2a88f8"/>
<circle cx="591.12" cy="513.62" r="2.5" fill="#2a88f8"/>
<circle cx="594.29" cy="521.97" r="2.5" fill="#2a88f8"/>
<circle cx="597.46" cy="530.32" r="2.5" fill="#2a88f8"/>
<circle cx="600.64" cy="538.67" r="2.5" fill="#2a88f8"/>
<circle cx="603.81" cy="547.02" r="2.5" fill="#2a88f8"/>
<circle cx="606.98" cy="555.37" r="2.5" fill="#2a88f8"/>
<circle cx="610.16" cy="563.72" r="2.5" fill="#2a88f8"/>
<circle cx="613.33" cy="572.08" r="2.5" fill="#2a88f8"/>
<polygon points="566.79,466.85 670.6,466.85 670.6,578.2 609.1,578.2" fill="#c8c8c8" fill-opacity="0.45"/>
<line x1="493.8" y1="467.45" x2="684.2" y2="467.45" stroke="#1c1c1c" stroke-width="1.4"/>
<line x1="670.6" y1="467.85" x2="670.6" y2="578.2" stroke="#ff1010" stroke-width="1.3" stroke-dasharray="2.9 1.0"/>
<rect x="493.8" y="355.5" width="190.4" height="222.7" fill="none" stroke="#222222" stroke-width="1.45"/>
<text x="504.68" y="349.7" font-size="16" text-anchor="middle" fill="#000000" stroke="#000000" stroke-width="0.22">-28</text>
<text x="546.99" y="349.7" font-size="16" text-anchor="middle" fill="#000000" stroke="#000000" stroke-width="0.22">-24</text>
<text x="589.3" y="349.7" font-size="16" text-anchor="middle" fill="#000000" stroke="#000000" stroke-width="0.22">-20</text>
<text x="631.61" y="349.7" font-size="16" text-anchor="middle" fill="#000000" stroke="#000000" stroke-width="0.22">-16</text>
<text x="673.92" y="349.7" font-size="16" text-anchor="middle" fill="#000000" stroke="#000000" stroke-width="0.22">-12</text>
<text x="674.1" y="469.45" font-size="11.9" fill="#ff1010" stroke="#ff1010" stroke-width="0.35" transform="rotate(90 674.1 469.45)">-12.13 eV</text>
<rect x="158.6" y="61.1" width="98.1" height="85.4" fill="#fff"/>
<line x1="173.6" y1="107.1" x2="252.7" y2="107.1" stroke="#7c7c7c" stroke-width="1.4"/>
<line x1="173.6" y1="60.3" x2="252.7" y2="246.3" stroke="#9a9ad2" stroke-width="1" clip-path="url(#c7)"/>
<circle cx="177.55" cy="69.6" r="1.35" fill="none" stroke="#9a9ad2" stroke-width="0.8"/>
<circle cx="181.51" cy="78.9" r="1.35" fill="none" stroke="#9a9ad2" stroke-width="0.8"/>
<circle cx="185.46" cy="88.2" r="1.35" fill="none" stroke="#9a9ad2" stroke-width="0.8"/>
<circle cx="189.42" cy="97.5" r="1.35" fill="none" stroke="#9a9ad2" stroke-width="0.8"/>
<circle cx="193.38" cy="106.8" r="1.35" fill="none" stroke="#9a9ad2" stroke-width="0.8"/>
<circle cx="197.33" cy="116.1" r="1.35" fill="none" stroke="#9a9ad2" stroke-width="0.8"/>
<circle cx="201.28" cy="125.4" r="1.35" fill="none" stroke="#9a9ad2" stroke-width="0.8"/>
<circle cx="205.24" cy="134.7" r="1.35" fill="none" stroke="#9a9ad2" stroke-width="0.8"/>
<circle cx="209.19" cy="144" r="1.35" fill="none" stroke="#9a9ad2" stroke-width="0.8"/>
<line x1="173.6" y1="89.13" x2="252.7" y2="275.13" stroke="#2a88f8" stroke-width="1" clip-path="url(#c7)"/>
<circle cx="173.6" cy="89.13" r="1.35" fill="none" stroke="#2a88f8" stroke-width="0.8"/>
<circle cx="177.55" cy="98.43" r="1.35" fill="none" stroke="#2a88f8" stroke-width="0.8"/>
<circle cx="181.51" cy="107.73" r="1.35" fill="none" stroke="#2a88f8" stroke-width="0.8"/>
<circle cx="185.46" cy="117.03" r="1.35" fill="none" stroke="#2a88f8" stroke-width="0.8"/>
<circle cx="189.42" cy="126.33" r="1.35" fill="none" stroke="#2a88f8" stroke-width="0.8"/>
<circle cx="193.38" cy="135.63" r="1.35" fill="none" stroke="#2a88f8" stroke-width="0.8"/>
<line x1="173.6" y1="-43.86" x2="252.7" y2="142.14" stroke="#e27a14" stroke-width="1" clip-path="url(#c7)"/>
<circle cx="225.01" cy="77.04" r="1.35" fill="none" stroke="#e27a14" stroke-width="0.8"/>
<circle cx="228.97" cy="86.34" r="1.35" fill="none" stroke="#e27a14" stroke-width="0.8"/>
<circle cx="232.92" cy="95.64" r="1.35" fill="none" stroke="#e27a14" stroke-width="0.8"/>
<circle cx="236.88" cy="104.94" r="1.35" fill="none" stroke="#e27a14" stroke-width="0.8"/>
<circle cx="240.83" cy="114.24" r="1.35" fill="none" stroke="#e27a14" stroke-width="0.8"/>
<circle cx="244.79" cy="123.54" r="1.35" fill="none" stroke="#e27a14" stroke-width="0.8"/>
<circle cx="248.75" cy="132.84" r="1.35" fill="none" stroke="#e27a14" stroke-width="0.8"/>
<circle cx="252.7" cy="142.14" r="1.35" fill="none" stroke="#e27a14" stroke-width="0.8"/>
<line x1="173.6" y1="4.5" x2="252.7" y2="190.5" stroke="#bd36f6" stroke-width="1" clip-path="url(#c7)"/>
<circle cx="201.28" cy="69.6" r="1.35" fill="none" stroke="#bd36f6" stroke-width="0.8"/>
<circle cx="205.24" cy="78.9" r="1.35" fill="none" stroke="#bd36f6" stroke-width="0.8"/>
<circle cx="209.19" cy="88.2" r="1.35" fill="none" stroke="#bd36f6" stroke-width="0.8"/>
<circle cx="213.15" cy="97.5" r="1.35" fill="none" stroke="#bd36f6" stroke-width="0.8"/>
<circle cx="217.1" cy="106.8" r="1.35" fill="none" stroke="#bd36f6" stroke-width="0.8"/>
<circle cx="221.06" cy="116.1" r="1.35" fill="none" stroke="#bd36f6" stroke-width="0.8"/>
<circle cx="225.01" cy="125.4" r="1.35" fill="none" stroke="#bd36f6" stroke-width="0.8"/>
<circle cx="228.97" cy="134.7" r="1.35" fill="none" stroke="#bd36f6" stroke-width="0.8"/>
<circle cx="232.92" cy="144" r="1.35" fill="none" stroke="#bd36f6" stroke-width="0.8"/>
<line x1="173.6" y1="-25.26" x2="252.7" y2="160.74" stroke="#14147a" stroke-width="1" clip-path="url(#c7)"/>
<circle cx="217.1" cy="77.04" r="1.35" fill="none" stroke="#14147a" stroke-width="0.8"/>
<circle cx="221.06" cy="86.34" r="1.35" fill="none" stroke="#14147a" stroke-width="0.8"/>
<circle cx="225.01" cy="95.64" r="1.35" fill="none" stroke="#14147a" stroke-width="0.8"/>
<circle cx="228.97" cy="104.94" r="1.35" fill="none" stroke="#14147a" stroke-width="0.8"/>
<circle cx="232.92" cy="114.24" r="1.35" fill="none" stroke="#14147a" stroke-width="0.8"/>
<circle cx="236.88" cy="123.54" r="1.35" fill="none" stroke="#14147a" stroke-width="0.8"/>
<circle cx="240.83" cy="132.84" r="1.35" fill="none" stroke="#14147a" stroke-width="0.8"/>
<circle cx="244.79" cy="142.14" r="1.35" fill="none" stroke="#14147a" stroke-width="0.8"/>
<rect x="173.6" y="69.6" width="79.1" height="74.4" fill="none" stroke="#333" stroke-width="1.1"/>
<path d="M173.6 69.6V74.1M213.15 69.6V74.1M252.7 69.6V74.1M193.38 69.6V72M232.92 69.6V72M173.6 69.6H178.4M173.6 88.2H178.4M173.6 106.8H178.4M173.6 125.4H178.4M173.6 144H178.4M173.6 78.9H176M173.6 97.5H176M173.6 116.1H176M173.6 134.7H176" stroke="#333" stroke-width="0.9" fill="none"/>
<text x="173.6" y="67" font-size="7" text-anchor="middle" fill="#000000" stroke="#000000" stroke-width="0.13">-4.0</text>
<text x="213.15" y="67" font-size="7" text-anchor="middle" fill="#000000" stroke="#000000" stroke-width="0.13">-3.5</text>
<text x="252.7" y="67" font-size="7" text-anchor="middle" fill="#000000" stroke="#000000" stroke-width="0.13">-3.0</text>
<text x="172" y="72.1" font-size="7" text-anchor="end" fill="#000000" stroke="#000000" stroke-width="0.13">0.2</text>
<text x="172" y="90.7" font-size="7" text-anchor="end" fill="#000000" stroke="#000000" stroke-width="0.13">0.1</text>
<text x="172" y="109.3" font-size="7" text-anchor="end" fill="#000000" stroke="#000000" stroke-width="0.13">0.0</text>
<text x="172" y="127.9" font-size="7" text-anchor="end" fill="#000000" stroke="#000000" stroke-width="0.13">-0.1</text>
<text x="172" y="146.5" font-size="7" text-anchor="end" fill="#000000" stroke="#000000" stroke-width="0.13">-0.2</text>
<rect x="367.5" y="61.1" width="97.2" height="85.4" fill="#fff"/>
<line x1="382.5" y1="107.1" x2="460.7" y2="107.1" stroke="#7c7c7c" stroke-width="1.4"/>
<line x1="382.5" y1="11.94" x2="460.7" y2="290.94" stroke="#9a9ad2" stroke-width="1" clip-path="url(#c8)"/>
<circle cx="400.75" cy="77.04" r="1.55" fill="#9a9ad2"/>
<circle cx="403.35" cy="86.34" r="1.55" fill="#9a9ad2"/>
<circle cx="405.96" cy="95.64" r="1.55" fill="#9a9ad2"/>
<circle cx="408.57" cy="104.94" r="1.55" fill="#9a9ad2"/>
<circle cx="411.17" cy="114.24" r="1.55" fill="#9a9ad2"/>
<circle cx="413.78" cy="123.54" r="1.55" fill="#9a9ad2"/>
<circle cx="416.39" cy="132.84" r="1.55" fill="#9a9ad2"/>
<circle cx="418.99" cy="142.14" r="1.55" fill="#9a9ad2"/>
<line x1="382.5" y1="65.88" x2="460.7" y2="344.88" stroke="#2a88f8" stroke-width="1" clip-path="url(#c8)"/>
<circle cx="385.11" cy="75.18" r="1.55" fill="#2a88f8"/>
<circle cx="387.71" cy="84.48" r="1.55" fill="#2a88f8"/>
<circle cx="390.32" cy="93.78" r="1.55" fill="#2a88f8"/>
<circle cx="392.93" cy="103.08" r="1.55" fill="#2a88f8"/>
<circle cx="395.53" cy="112.38" r="1.55" fill="#2a88f8"/>
<circle cx="398.14" cy="121.68" r="1.55" fill="#2a88f8"/>
<circle cx="400.75" cy="130.98" r="1.55" fill="#2a88f8"/>
<circle cx="403.35" cy="140.28" r="1.55" fill="#2a88f8"/>
<line x1="382.5" y1="-125.7" x2="460.7" y2="153.3" stroke="#e27a14" stroke-width="1" clip-path="url(#c8)"/>
<circle cx="437.24" cy="69.6" r="1.55" fill="#e27a14"/>
<circle cx="439.85" cy="78.9" r="1.55" fill="#e27a14"/>
<circle cx="442.45" cy="88.2" r="1.55" fill="#e27a14"/>
<circle cx="445.06" cy="97.5" r="1.55" fill="#e27a14"/>
<circle cx="447.67" cy="106.8" r="1.55" fill="#e27a14"/>
<circle cx="450.27" cy="116.1" r="1.55" fill="#e27a14"/>
<circle cx="452.88" cy="125.4" r="1.55" fill="#e27a14"/>
<circle cx="455.49" cy="134.7" r="1.55" fill="#e27a14"/>
<circle cx="458.09" cy="144" r="1.55" fill="#e27a14"/>
<line x1="382.5" y1="-32.7" x2="460.7" y2="246.3" stroke="#bd36f6" stroke-width="1" clip-path="url(#c8)"/>
<circle cx="411.17" cy="69.6" r="1.55" fill="#bd36f6"/>
<circle cx="413.78" cy="78.9" r="1.55" fill="#bd36f6"/>
<circle cx="416.39" cy="88.2" r="1.55" fill="#bd36f6"/>
<circle cx="418.99" cy="97.5" r="1.55" fill="#bd36f6"/>
<circle cx="421.6" cy="106.8" r="1.55" fill="#bd36f6"/>
<circle cx="424.21" cy="116.1" r="1.55" fill="#bd36f6"/>
<circle cx="426.81" cy="125.4" r="1.55" fill="#bd36f6"/>
<circle cx="429.42" cy="134.7" r="1.55" fill="#bd36f6"/>
<circle cx="432.03" cy="144" r="1.55" fill="#bd36f6"/>
<line x1="382.5" y1="-51.3" x2="460.7" y2="227.7" stroke="#0c0c62" stroke-width="1" clip-path="url(#c8)"/>
<circle cx="416.39" cy="69.6" r="1.55" fill="#0c0c62"/>
<circle cx="418.99" cy="78.9" r="1.55" fill="#0c0c62"/>
<circle cx="421.6" cy="88.2" r="1.55" fill="#0c0c62"/>
<circle cx="424.21" cy="97.5" r="1.55" fill="#0c0c62"/>
<circle cx="426.81" cy="106.8" r="1.55" fill="#0c0c62"/>
<circle cx="429.42" cy="116.1" r="1.55" fill="#0c0c62"/>
<circle cx="432.03" cy="125.4" r="1.55" fill="#0c0c62"/>
<circle cx="434.63" cy="134.7" r="1.55" fill="#0c0c62"/>
<circle cx="437.24" cy="144" r="1.55" fill="#0c0c62"/>
<rect x="382.5" y="69.6" width="78.2" height="74.4" fill="none" stroke="#333" stroke-width="1.1"/>
<path d="M382.5 69.6V74.1M408.57 69.6V74.1M434.63 69.6V74.1M460.7 69.6V74.1M395.53 69.6V72M421.6 69.6V72M447.67 69.6V72M382.5 69.6H387.3M382.5 88.2H387.3M382.5 106.8H387.3M382.5 125.4H387.3M382.5 144H387.3M382.5 78.9H384.9M382.5 97.5H384.9M382.5 116.1H384.9M382.5 134.7H384.9" stroke="#333" stroke-width="0.9" fill="none"/>
<text x="382.5" y="67" font-size="7" text-anchor="middle" fill="#000000" stroke="#000000" stroke-width="0.13">-4.0</text>
<text x="408.57" y="67" font-size="7" text-anchor="middle" fill="#000000" stroke="#000000" stroke-width="0.13">-3.5</text>
<text x="434.63" y="67" font-size="7" text-anchor="middle" fill="#000000" stroke="#000000" stroke-width="0.13">-3.0</text>
<text x="460.7" y="67" font-size="7" text-anchor="middle" fill="#000000" stroke="#000000" stroke-width="0.13">-2.5</text>
<text x="380.9" y="72.1" font-size="7" text-anchor="end" fill="#000000" stroke="#000000" stroke-width="0.13">0.2</text>
<text x="380.9" y="90.7" font-size="7" text-anchor="end" fill="#000000" stroke="#000000" stroke-width="0.13">0.1</text>
<text x="380.9" y="109.3" font-size="7" text-anchor="end" fill="#000000" stroke="#000000" stroke-width="0.13">0.0</text>
<text x="380.9" y="127.9" font-size="7" text-anchor="end" fill="#000000" stroke="#000000" stroke-width="0.13">-0.1</text>
<text x="380.9" y="146.5" font-size="7" text-anchor="end" fill="#000000" stroke="#000000" stroke-width="0.13">-0.2</text>
<rect x="575.5" y="61.3" width="97.8" height="85.2" fill="#fff"/>
<line x1="590.5" y1="107.2" x2="669.3" y2="107.2" stroke="#7c7c7c" stroke-width="1.4"/>
<line x1="590.5" y1="89.83" x2="669.3" y2="145.48" stroke="#2a88f8" stroke-width="1" clip-path="url(#c9)"/>
<circle cx="590.5" cy="89.83" r="1.35" fill="none" stroke="#2a88f8" stroke-width="0.8"/>
<circle cx="603.63" cy="99.11" r="1.35" fill="none" stroke="#2a88f8" stroke-width="0.8"/>
<circle cx="616.77" cy="108.38" r="1.35" fill="none" stroke="#2a88f8" stroke-width="0.8"/>
<circle cx="629.9" cy="117.66" r="1.35" fill="none" stroke="#2a88f8" stroke-width="0.8"/>
<circle cx="643.03" cy="126.93" r="1.35" fill="none" stroke="#2a88f8" stroke-width="0.8"/>
<circle cx="656.17" cy="136.21" r="1.35" fill="none" stroke="#2a88f8" stroke-width="0.8"/>
<line x1="590.5" y1="74.07" x2="669.3" y2="129.72" stroke="#2a88f8" stroke-width="1" clip-path="url(#c9)"/>
<path d="M588.7 74.07L592.3 74.07M589.23 72.79L591.77 75.34M590.5 72.27L590.5 75.87M591.77 72.79L589.23 75.34" stroke="#2a88f8" stroke-width="0.8" fill="none"/>
<path d="M601.83 83.34L605.43 83.34M602.36 82.07L604.91 84.61M603.63 81.54L603.63 85.14M604.91 82.07L602.36 84.61" stroke="#2a88f8" stroke-width="0.8" fill="none"/>
<path d="M614.97 92.62L618.57 92.62M615.49 91.34L618.04 93.89M616.77 90.82L616.77 94.42M618.04 91.34L615.49 93.89" stroke="#2a88f8" stroke-width="0.8" fill="none"/>
<path d="M628.1 101.89L631.7 101.89M628.63 100.62L631.17 103.16M629.9 100.09L629.9 103.69M631.17 100.62L628.63 103.16" stroke="#2a88f8" stroke-width="0.8" fill="none"/>
<path d="M641.23 111.17L644.83 111.17M641.76 109.89L644.31 112.44M643.03 109.37L643.03 112.97M644.31 109.89L641.76 112.44" stroke="#2a88f8" stroke-width="0.8" fill="none"/>
<path d="M654.37 120.44L657.97 120.44M654.89 119.17L657.44 121.71M656.17 118.64L656.17 122.24M657.44 119.17L654.89 121.71" stroke="#2a88f8" stroke-width="0.8" fill="none"/>
<path d="M667.5 129.72L671.1 129.72M668.03 128.44L670.57 130.99M669.3 127.92L669.3 131.52M670.57 128.44L668.03 130.99" stroke="#2a88f8" stroke-width="0.8" fill="none"/>
<line x1="590.5" y1="65.16" x2="669.3" y2="120.81" stroke="#2a88f8" stroke-width="1" clip-path="url(#c9)"/>
<circle cx="603.63" cy="74.44" r="1.55" fill="#2a88f8"/>
<circle cx="616.77" cy="83.71" r="1.55" fill="#2a88f8"/>
<circle cx="629.9" cy="92.99" r="1.55" fill="#2a88f8"/>
<circle cx="643.03" cy="102.26" r="1.55" fill="#2a88f8"/>
<circle cx="656.17" cy="111.54" r="1.55" fill="#2a88f8"/>
<circle cx="669.3" cy="120.81" r="1.55" fill="#2a88f8"/>
<rect x="590.5" y="69.8" width="78.8" height="74.2" fill="none" stroke="#333" stroke-width="1.1"/>
<path d="M590.5 69.8V74.3M616.77 69.8V74.3M643.03 69.8V74.3M669.3 69.8V74.3M603.63 69.8V72.2M629.9 69.8V72.2M656.17 69.8V72.2M590.5 69.8H595.3M590.5 88.35H595.3M590.5 106.9H595.3M590.5 125.45H595.3M590.5 144H595.3M590.5 79.08H592.9M590.5 97.62H592.9M590.5 116.17H592.9M590.5 134.72H592.9" stroke="#333" stroke-width="0.9" fill="none"/>
<text x="590.5" y="67.2" font-size="7" text-anchor="middle" fill="#000000" stroke="#000000" stroke-width="0.13">-4.0</text>
<text x="616.77" y="67.2" font-size="7" text-anchor="middle" fill="#000000" stroke="#000000" stroke-width="0.13">-3.9</text>
<text x="643.03" y="67.2" font-size="7" text-anchor="middle" fill="#000000" stroke="#000000" stroke-width="0.13">-3.8</text>
<text x="669.3" y="67.2" font-size="7" text-anchor="middle" fill="#000000" stroke="#000000" stroke-width="0.13">-3.7</text>
<text x="588.9" y="72.3" font-size="7" text-anchor="end" fill="#000000" stroke="#000000" stroke-width="0.13">0.2</text>
<text x="588.9" y="90.85" font-size="7" text-anchor="end" fill="#000000" stroke="#000000" stroke-width="0.13">0.1</text>
<text x="588.9" y="109.4" font-size="7" text-anchor="end" fill="#000000" stroke="#000000" stroke-width="0.13">0.0</text>
<text x="588.9" y="127.95" font-size="7" text-anchor="end" fill="#000000" stroke="#000000" stroke-width="0.13">-0.1</text>
<text x="588.9" y="146.5" font-size="7" text-anchor="end" fill="#000000" stroke="#000000" stroke-width="0.13">-0.2</text>
<rect x="163.4" y="362.1" width="101.3" height="88.8" fill="#fff"/>
<line x1="178.4" y1="409.8" x2="260.7" y2="409.8" stroke="#7c7c7c" stroke-width="1.4"/>
<line x1="178.4" y1="337.53" x2="260.7" y2="677.91" stroke="#9a9ad2" stroke-width="1" clip-path="url(#c10)"/>
<circle cx="187.81" cy="376.43" r="1.35" fill="none" stroke="#9a9ad2" stroke-width="0.8"/>
<circle cx="190.16" cy="386.16" r="1.35" fill="none" stroke="#9a9ad2" stroke-width="0.8"/>
<circle cx="192.51" cy="395.88" r="1.35" fill="none" stroke="#9a9ad2" stroke-width="0.8"/>
<circle cx="194.86" cy="405.61" r="1.35" fill="none" stroke="#9a9ad2" stroke-width="0.8"/>
<circle cx="197.21" cy="415.33" r="1.35" fill="none" stroke="#9a9ad2" stroke-width="0.8"/>
<circle cx="199.56" cy="425.06" r="1.35" fill="none" stroke="#9a9ad2" stroke-width="0.8"/>
<circle cx="201.91" cy="434.78" r="1.35" fill="none" stroke="#9a9ad2" stroke-width="0.8"/>
<circle cx="204.27" cy="444.51" r="1.35" fill="none" stroke="#9a9ad2" stroke-width="0.8"/>
<line x1="178.4" y1="331.7" x2="260.7" y2="672.08" stroke="#2a88f8" stroke-width="1" clip-path="url(#c10)"/>
<circle cx="187.81" cy="370.6" r="1.35" fill="none" stroke="#2a88f8" stroke-width="0.8"/>
<circle cx="190.16" cy="380.33" r="1.35" fill="none" stroke="#2a88f8" stroke-width="0.8"/>
<circle cx="192.51" cy="390.05" r="1.35" fill="none" stroke="#2a88f8" stroke-width="0.8"/>
<circle cx="194.86" cy="399.78" r="1.35" fill="none" stroke="#2a88f8" stroke-width="0.8"/>
<circle cx="197.21" cy="409.5" r="1.35" fill="none" stroke="#2a88f8" stroke-width="0.8"/>
<circle cx="199.56" cy="419.23" r="1.35" fill="none" stroke="#2a88f8" stroke-width="0.8"/>
<circle cx="201.91" cy="428.95" r="1.35" fill="none" stroke="#2a88f8" stroke-width="0.8"/>
<circle cx="204.27" cy="438.68" r="1.35" fill="none" stroke="#2a88f8" stroke-width="0.8"/>
<circle cx="206.62" cy="448.4" r="1.35" fill="none" stroke="#2a88f8" stroke-width="0.8"/>
<line x1="178.4" y1="234.45" x2="260.7" y2="574.83" stroke="#e27a14" stroke-width="1" clip-path="url(#c10)"/>
<circle cx="211.32" cy="370.6" r="1.35" fill="none" stroke="#e27a14" stroke-width="0.8"/>
<circle cx="213.67" cy="380.33" r="1.35" fill="none" stroke="#e27a14" stroke-width="0.8"/>
<circle cx="216.02" cy="390.05" r="1.35" fill="none" stroke="#e27a14" stroke-width="0.8"/>
<circle cx="218.37" cy="399.78" r="1.35" fill="none" stroke="#e27a14" stroke-width="0.8"/>
<circle cx="220.73" cy="409.5" r="1.35" fill="none" stroke="#e27a14" stroke-width="0.8"/>
<circle cx="223.08" cy="419.23" r="1.35" fill="none" stroke="#e27a14" stroke-width="0.8"/>
<circle cx="225.43" cy="428.95" r="1.35" fill="none" stroke="#e27a14" stroke-width="0.8"/>
<circle cx="227.78" cy="438.68" r="1.35" fill="none" stroke="#e27a14" stroke-width="0.8"/>
<circle cx="230.13" cy="448.4" r="1.35" fill="none" stroke="#e27a14" stroke-width="0.8"/>
<line x1="178.4" y1="156.65" x2="260.7" y2="497.02" stroke="#bd36f6" stroke-width="1" clip-path="url(#c10)"/>
<circle cx="230.13" cy="370.6" r="1.35" fill="none" stroke="#bd36f6" stroke-width="0.8"/>
<circle cx="232.48" cy="380.32" r="1.35" fill="none" stroke="#bd36f6" stroke-width="0.8"/>
<circle cx="234.83" cy="390.05" r="1.35" fill="none" stroke="#bd36f6" stroke-width="0.8"/>
<circle cx="237.19" cy="399.77" r="1.35" fill="none" stroke="#bd36f6" stroke-width="0.8"/>
<circle cx="239.54" cy="409.5" r="1.35" fill="none" stroke="#bd36f6" stroke-width="0.8"/>
<circle cx="241.89" cy="419.23" r="1.35" fill="none" stroke="#bd36f6" stroke-width="0.8"/>
<circle cx="244.24" cy="428.95" r="1.35" fill="none" stroke="#bd36f6" stroke-width="0.8"/>
<circle cx="246.59" cy="438.67" r="1.35" fill="none" stroke="#bd36f6" stroke-width="0.8"/>
<circle cx="248.94" cy="448.4" r="1.35" fill="none" stroke="#bd36f6" stroke-width="0.8"/>
<line x1="178.4" y1="131.37" x2="260.7" y2="471.74" stroke="#14147a" stroke-width="1" clip-path="url(#c10)"/>
<circle cx="237.19" cy="374.49" r="1.35" fill="none" stroke="#14147a" stroke-width="0.8"/>
<circle cx="239.54" cy="384.22" r="1.35" fill="none" stroke="#14147a" stroke-width="0.8"/>
<circle cx="241.89" cy="393.94" r="1.35" fill="none" stroke="#14147a" stroke-width="0.8"/>
<circle cx="244.24" cy="403.66" r="1.35" fill="none" stroke="#14147a" stroke-width="0.8"/>
<circle cx="246.59" cy="413.39" r="1.35" fill="none" stroke="#14147a" stroke-width="0.8"/>
<circle cx="248.94" cy="423.12" r="1.35" fill="none" stroke="#14147a" stroke-width="0.8"/>
<circle cx="251.29" cy="432.84" r="1.35" fill="none" stroke="#14147a" stroke-width="0.8"/>
<circle cx="253.65" cy="442.57" r="1.35" fill="none" stroke="#14147a" stroke-width="0.8"/>
<rect x="178.4" y="370.6" width="82.3" height="77.8" fill="none" stroke="#333" stroke-width="1.1"/>
<path d="M178.4 370.6V375.1M201.91 370.6V375.1M225.43 370.6V375.1M248.94 370.6V375.1M190.16 370.6V373M213.67 370.6V373M237.19 370.6V373M178.4 370.6H183.2M178.4 390.05H183.2M178.4 409.5H183.2M178.4 428.95H183.2M178.4 448.4H183.2M178.4 380.33H180.8M178.4 399.78H180.8M178.4 419.23H180.8M178.4 438.67H180.8" stroke="#333" stroke-width="0.9" fill="none"/>
<text x="178.4" y="368" font-size="7" text-anchor="middle" fill="#000000" stroke="#000000" stroke-width="0.13">-22.5</text>
<text x="201.91" y="368" font-size="7" text-anchor="middle" fill="#000000" stroke="#000000" stroke-width="0.13">-22.0</text>
<text x="225.43" y="368" font-size="7" text-anchor="middle" fill="#000000" stroke="#000000" stroke-width="0.13">-21.5</text>
<text x="248.94" y="368" font-size="7" text-anchor="middle" fill="#000000" stroke="#000000" stroke-width="0.13">-21.0</text>
<text x="176.8" y="373.1" font-size="7" text-anchor="end" fill="#000000" stroke="#000000" stroke-width="0.13">0.2</text>
<text x="176.8" y="392.55" font-size="7" text-anchor="end" fill="#000000" stroke="#000000" stroke-width="0.13">0.1</text>
<text x="176.8" y="412" font-size="7" text-anchor="end" fill="#000000" stroke="#000000" stroke-width="0.13">0.0</text>
<text x="176.8" y="431.45" font-size="7" text-anchor="end" fill="#000000" stroke="#000000" stroke-width="0.13">-0.1</text>
<text x="176.8" y="450.9" font-size="7" text-anchor="end" fill="#000000" stroke="#000000" stroke-width="0.13">-0.2</text>
<rect x="372.8" y="362.3" width="101.7" height="88.6" fill="#fff"/>
<line x1="387.8" y1="409.9" x2="470.5" y2="409.9" stroke="#7c7c7c" stroke-width="1.4"/>
<line x1="387.8" y1="333.94" x2="470.5" y2="702.54" stroke="#9a9ad2" stroke-width="1" clip-path="url(#c11)"/>
<circle cx="396.51" cy="372.74" r="1.55" fill="#9a9ad2"/>
<circle cx="398.68" cy="382.44" r="1.55" fill="#9a9ad2"/>
<circle cx="400.86" cy="392.14" r="1.55" fill="#9a9ad2"/>
<circle cx="403.03" cy="401.84" r="1.55" fill="#9a9ad2"/>
<circle cx="405.21" cy="411.54" r="1.55" fill="#9a9ad2"/>
<circle cx="407.39" cy="421.24" r="1.55" fill="#9a9ad2"/>
<circle cx="409.56" cy="430.94" r="1.55" fill="#9a9ad2"/>
<circle cx="411.74" cy="440.64" r="1.55" fill="#9a9ad2"/>
<line x1="387.8" y1="291.26" x2="470.5" y2="659.86" stroke="#2a88f8" stroke-width="1" clip-path="url(#c11)"/>
<circle cx="407.39" cy="378.56" r="1.55" fill="#2a88f8"/>
<circle cx="409.56" cy="388.26" r="1.55" fill="#2a88f8"/>
<circle cx="411.74" cy="397.96" r="1.55" fill="#2a88f8"/>
<circle cx="413.92" cy="407.66" r="1.55" fill="#2a88f8"/>
<circle cx="416.09" cy="417.36" r="1.55" fill="#2a88f8"/>
<circle cx="418.27" cy="427.06" r="1.55" fill="#2a88f8"/>
<circle cx="420.44" cy="436.76" r="1.55" fill="#2a88f8"/>
<circle cx="422.62" cy="446.46" r="1.55" fill="#2a88f8"/>
<line x1="387.8" y1="235" x2="470.5" y2="603.6" stroke="#e27a14" stroke-width="1" clip-path="url(#c11)"/>
<circle cx="418.27" cy="370.8" r="1.55" fill="#e27a14"/>
<circle cx="420.44" cy="380.5" r="1.55" fill="#e27a14"/>
<circle cx="422.62" cy="390.2" r="1.55" fill="#e27a14"/>
<circle cx="424.8" cy="399.9" r="1.55" fill="#e27a14"/>
<circle cx="426.97" cy="409.6" r="1.55" fill="#e27a14"/>
<circle cx="429.15" cy="419.3" r="1.55" fill="#e27a14"/>
<circle cx="431.33" cy="429" r="1.55" fill="#e27a14"/>
<circle cx="433.5" cy="438.7" r="1.55" fill="#e27a14"/>
<circle cx="435.68" cy="448.4" r="1.55" fill="#e27a14"/>
<line x1="387.8" y1="86.59" x2="470.5" y2="455.19" stroke="#bd36f6" stroke-width="1" clip-path="url(#c11)"/>
<circle cx="453.09" cy="377.59" r="1.55" fill="#bd36f6"/>
<circle cx="455.27" cy="387.29" r="1.55" fill="#bd36f6"/>
<circle cx="457.44" cy="396.99" r="1.55" fill="#bd36f6"/>
<circle cx="459.62" cy="406.69" r="1.55" fill="#bd36f6"/>
<circle cx="461.79" cy="416.39" r="1.55" fill="#bd36f6"/>
<circle cx="463.97" cy="426.09" r="1.55" fill="#bd36f6"/>
<circle cx="466.15" cy="435.79" r="1.55" fill="#bd36f6"/>
<circle cx="468.32" cy="445.49" r="1.55" fill="#bd36f6"/>
<line x1="387.8" y1="89.5" x2="470.5" y2="458.1" stroke="#0c0c62" stroke-width="1" clip-path="url(#c11)"/>
<circle cx="450.91" cy="370.8" r="1.55" fill="#0c0c62"/>
<circle cx="453.09" cy="380.5" r="1.55" fill="#0c0c62"/>
<circle cx="455.27" cy="390.2" r="1.55" fill="#0c0c62"/>
<circle cx="457.44" cy="399.9" r="1.55" fill="#0c0c62"/>
<circle cx="459.62" cy="409.6" r="1.55" fill="#0c0c62"/>
<circle cx="461.79" cy="419.3" r="1.55" fill="#0c0c62"/>
<circle cx="463.97" cy="429" r="1.55" fill="#0c0c62"/>
<circle cx="466.15" cy="438.7" r="1.55" fill="#0c0c62"/>
<circle cx="468.32" cy="448.4" r="1.55" fill="#0c0c62"/>
<rect x="387.8" y="370.8" width="82.7" height="77.6" fill="none" stroke="#333" stroke-width="1.1"/>
<path d="M392.15 370.8V375.3M413.92 370.8V375.3M435.68 370.8V375.3M457.44 370.8V375.3M403.03 370.8V373.2M424.8 370.8V373.2M446.56 370.8V373.2M468.32 370.8V373.2M387.8 370.8H392.6M387.8 390.2H392.6M387.8 409.6H392.6M387.8 429H392.6M387.8 448.4H392.6M387.8 380.5H390.2M387.8 399.9H390.2M387.8 419.3H390.2M387.8 438.7H390.2" stroke="#333" stroke-width="0.9" fill="none"/>
<text x="392.15" y="368.2" font-size="7" text-anchor="middle" fill="#000000" stroke="#000000" stroke-width="0.13">-22.0</text>
<text x="413.92" y="368.2" font-size="7" text-anchor="middle" fill="#000000" stroke="#000000" stroke-width="0.13">-21.5</text>
<text x="435.68" y="368.2" font-size="7" text-anchor="middle" fill="#000000" stroke="#000000" stroke-width="0.13">-21.0</text>
<text x="457.44" y="368.2" font-size="7" text-anchor="middle" fill="#000000" stroke="#000000" stroke-width="0.13">-20.5</text>
<text x="386.2" y="373.3" font-size="7" text-anchor="end" fill="#000000" stroke="#000000" stroke-width="0.13">0.2</text>
<text x="386.2" y="392.7" font-size="7" text-anchor="end" fill="#000000" stroke="#000000" stroke-width="0.13">0.1</text>
<text x="386.2" y="412.1" font-size="7" text-anchor="end" fill="#000000" stroke="#000000" stroke-width="0.13">0.0</text>
<text x="386.2" y="431.5" font-size="7" text-anchor="end" fill="#000000" stroke="#000000" stroke-width="0.13">-0.1</text>
<text x="386.2" y="450.9" font-size="7" text-anchor="end" fill="#000000" stroke="#000000" stroke-width="0.13">-0.2</text>
<rect x="582.4" y="361.9" width="102.2" height="89" fill="#fff"/>
<line x1="597.4" y1="409.7" x2="680.6" y2="409.7" stroke="#7c7c7c" stroke-width="1.4"/>
<line x1="597.4" y1="380.15" x2="680.6" y2="575.15" stroke="#2a88f8" stroke-width="1" clip-path="url(#c12)"/>
<circle cx="597.4" cy="380.15" r="1.35" fill="none" stroke="#2a88f8" stroke-width="0.8"/>
<circle cx="601.56" cy="389.9" r="1.35" fill="none" stroke="#2a88f8" stroke-width="0.8"/>
<circle cx="605.72" cy="399.65" r="1.35" fill="none" stroke="#2a88f8" stroke-width="0.8"/>
<circle cx="609.88" cy="409.4" r="1.35" fill="none" stroke="#2a88f8" stroke-width="0.8"/>
<circle cx="614.04" cy="419.15" r="1.35" fill="none" stroke="#2a88f8" stroke-width="0.8"/>
<circle cx="618.2" cy="428.9" r="1.35" fill="none" stroke="#2a88f8" stroke-width="0.8"/>
<circle cx="622.36" cy="438.65" r="1.35" fill="none" stroke="#2a88f8" stroke-width="0.8"/>
<circle cx="626.52" cy="448.4" r="1.35" fill="none" stroke="#2a88f8" stroke-width="0.8"/>
<line x1="597.4" y1="298.25" x2="680.6" y2="493.25" stroke="#2a88f8" stroke-width="1" clip-path="url(#c12)"/>
<path d="M628.88 376.25L632.48 376.25M629.41 374.98L631.95 377.52M630.68 374.45L630.68 378.05M631.95 374.98L629.41 377.52" stroke="#2a88f8" stroke-width="0.8" fill="none"/>
<path d="M633.04 386L636.64 386M633.57 384.73L636.11 387.27M634.84 384.2L634.84 387.8M636.11 384.73L633.57 387.27" stroke="#2a88f8" stroke-width="0.8" fill="none"/>
<path d="M637.2 395.75L640.8 395.75M637.73 394.48L640.27 397.02M639 393.95L639 397.55M640.27 394.48L637.73 397.02" stroke="#2a88f8" stroke-width="0.8" fill="none"/>
<path d="M641.36 405.5L644.96 405.5M641.89 404.23L644.43 406.77M643.16 403.7L643.16 407.3M644.43 404.23L641.89 406.77" stroke="#2a88f8" stroke-width="0.8" fill="none"/>
<path d="M645.52 415.25L649.12 415.25M646.05 413.98L648.59 416.52M647.32 413.45L647.32 417.05M648.59 413.98L646.05 416.52" stroke="#2a88f8" stroke-width="0.8" fill="none"/>
<path d="M649.68 425L653.28 425M650.21 423.73L652.75 426.27M651.48 423.2L651.48 426.8M652.75 423.73L650.21 426.27" stroke="#2a88f8" stroke-width="0.8" fill="none"/>
<path d="M653.84 434.75L657.44 434.75M654.37 433.48L656.91 436.02M655.64 432.95L655.64 436.55M656.91 433.48L654.37 436.02" stroke="#2a88f8" stroke-width="0.8" fill="none"/>
<path d="M658 444.5L661.6 444.5M658.53 443.23L661.07 445.77M659.8 442.7L659.8 446.3M661.07 443.23L658.53 445.77" stroke="#2a88f8" stroke-width="0.8" fill="none"/>
<line x1="597.4" y1="259.25" x2="680.6" y2="454.25" stroke="#2a88f8" stroke-width="1" clip-path="url(#c12)"/>
<circle cx="647.32" cy="376.25" r="1.55" fill="#2a88f8"/>
<circle cx="651.48" cy="386" r="1.55" fill="#2a88f8"/>
<circle cx="655.64" cy="395.75" r="1.55" fill="#2a88f8"/>
<circle cx="659.8" cy="405.5" r="1.55" fill="#2a88f8"/>
<circle cx="663.96" cy="415.25" r="1.55" fill="#2a88f8"/>
<circle cx="668.12" cy="425" r="1.55" fill="#2a88f8"/>
<circle cx="672.28" cy="434.75" r="1.55" fill="#2a88f8"/>
<circle cx="676.44" cy="444.5" r="1.55" fill="#2a88f8"/>
<rect x="597.4" y="370.4" width="83.2" height="78" fill="none" stroke="#333" stroke-width="1.1"/>
<path d="M618.2 370.4V374.9M659.8 370.4V374.9M597.4 370.4V372.8M639 370.4V372.8M680.6 370.4V372.8M597.4 370.4H602.2M597.4 389.9H602.2M597.4 409.4H602.2M597.4 428.9H602.2M597.4 448.4H602.2M597.4 380.15H599.8M597.4 399.65H599.8M597.4 419.15H599.8M597.4 438.65H599.8" stroke="#333" stroke-width="0.9" fill="none"/>
<text x="618.2" y="367.8" font-size="7" text-anchor="middle" fill="#000000" stroke="#000000" stroke-width="0.13">-22.0</text>
<text x="659.8" y="367.8" font-size="7" text-anchor="middle" fill="#000000" stroke="#000000" stroke-width="0.13">-21.5</text>
<text x="595.8" y="372.9" font-size="7" text-anchor="end" fill="#000000" stroke="#000000" stroke-width="0.13">0.2</text>
<text x="595.8" y="392.4" font-size="7" text-anchor="end" fill="#000000" stroke="#000000" stroke-width="0.13">0.1</text>
<text x="595.8" y="411.9" font-size="7" text-anchor="end" fill="#000000" stroke="#000000" stroke-width="0.13">0.0</text>
<text x="595.8" y="431.4" font-size="7" text-anchor="end" fill="#000000" stroke="#000000" stroke-width="0.13">-0.1</text>
<text x="595.8" y="450.9" font-size="7" text-anchor="end" fill="#000000" stroke="#000000" stroke-width="0.13">-0.2</text>
<line x1="90" y1="199.8" x2="106.2" y2="199.8" stroke="#9a9ad2" stroke-width="1.3"/>
<circle cx="90" cy="199.8" r="2.6" fill="#fff" stroke="#9a9ad2" stroke-width="1.25"/>
<circle cx="106.2" cy="199.8" r="2.6" fill="#fff" stroke="#9a9ad2" stroke-width="1.25"/>
<text x="113.5" y="203.5" font-size="12.5" text-anchor="start" fill="#000000" stroke="#000000" stroke-width="0.22">Ti<tspan font-size="8.4" dy="2.8">2</tspan><tspan dy="-2.8">​</tspan>N</text>
<line x1="90" y1="215.1" x2="106.2" y2="215.1" stroke="#2a88f8" stroke-width="1.3"/>
<circle cx="90" cy="215.1" r="2.6" fill="#fff" stroke="#2a88f8" stroke-width="1.25"/>
<circle cx="106.2" cy="215.1" r="2.6" fill="#fff" stroke="#2a88f8" stroke-width="1.25"/>
<text x="113.5" y="218.8" font-size="12.5" text-anchor="start" fill="#000000" stroke="#000000" stroke-width="0.22">Ti<tspan font-size="8.4" dy="2.8">2</tspan><tspan dy="-2.8">​</tspan>C</text>
<line x1="90" y1="230.3" x2="106.2" y2="230.3" stroke="#e27a14" stroke-width="1.3"/>
<circle cx="90" cy="230.3" r="2.6" fill="#fff" stroke="#e27a14" stroke-width="1.25"/>
<circle cx="106.2" cy="230.3" r="2.6" fill="#fff" stroke="#e27a14" stroke-width="1.25"/>
<text x="113.5" y="234" font-size="12.5" text-anchor="start" fill="#000000" stroke="#000000" stroke-width="0.22">V<tspan font-size="8.4" dy="2.8">2</tspan><tspan dy="-2.8">​</tspan>C</text>
<line x1="90" y1="245.4" x2="106.2" y2="245.4" stroke="#bd36f6" stroke-width="1.3"/>
<circle cx="90" cy="245.4" r="2.6" fill="#fff" stroke="#bd36f6" stroke-width="1.25"/>
<circle cx="106.2" cy="245.4" r="2.6" fill="#fff" stroke="#bd36f6" stroke-width="1.25"/>
<text x="113.5" y="249.1" font-size="12.5" text-anchor="start" fill="#000000" stroke="#000000" stroke-width="0.22">Nb<tspan font-size="8.4" dy="2.8">2</tspan><tspan dy="-2.8">​</tspan>C</text>
<line x1="90" y1="260.4" x2="106.2" y2="260.4" stroke="#14147a" stroke-width="1.3"/>
<circle cx="90" cy="260.4" r="2.6" fill="#fff" stroke="#14147a" stroke-width="1.25"/>
<circle cx="106.2" cy="260.4" r="2.6" fill="#fff" stroke="#14147a" stroke-width="1.25"/>
<text x="113.5" y="264.1" font-size="12.5" text-anchor="start" fill="#000000" stroke="#000000" stroke-width="0.22">Ta<tspan font-size="8.4" dy="2.8">2</tspan><tspan dy="-2.8">​</tspan>C</text>
<line x1="297.5" y1="196.3" x2="314" y2="196.3" stroke="#9a9ad2" stroke-width="1.3"/>
<circle cx="297.5" cy="196.3" r="3.3" fill="#9a9ad2"/>
<circle cx="314" cy="196.3" r="3.3" fill="#9a9ad2"/>
<text x="321.5" y="200" font-size="12.5" text-anchor="start" fill="#000000" stroke="#000000" stroke-width="0.22">Ti<tspan font-size="8.4" dy="2.8">4</tspan><tspan dy="-2.8">​</tspan>N<tspan font-size="8.4" dy="2.8">3</tspan><tspan dy="-2.8">​</tspan></text>
<line x1="297.5" y1="212.2" x2="314" y2="212.2" stroke="#2a88f8" stroke-width="1.3"/>
<circle cx="297.5" cy="212.2" r="3.3" fill="#2a88f8"/>
<circle cx="314" cy="212.2" r="3.3" fill="#2a88f8"/>
<text x="321.5" y="215.9" font-size="12.5" text-anchor="start" fill="#000000" stroke="#000000" stroke-width="0.22">Ti<tspan font-size="8.4" dy="2.8">4</tspan><tspan dy="-2.8">​</tspan>C<tspan font-size="8.4" dy="2.8">3</tspan><tspan dy="-2.8">​</tspan></text>
<line x1="297.5" y1="227.1" x2="314" y2="227.1" stroke="#e27a14" stroke-width="1.3"/>
<circle cx="297.5" cy="227.1" r="3.3" fill="#e27a14"/>
<circle cx="314" cy="227.1" r="3.3" fill="#e27a14"/>
<text x="321.5" y="230.8" font-size="12.5" text-anchor="start" fill="#000000" stroke="#000000" stroke-width="0.22">V<tspan font-size="8.4" dy="2.8">4</tspan><tspan dy="-2.8">​</tspan>C<tspan font-size="8.4" dy="2.8">3</tspan><tspan dy="-2.8">​</tspan></text>
<line x1="297.5" y1="242.1" x2="314" y2="242.1" stroke="#bd36f6" stroke-width="1.3"/>
<circle cx="297.5" cy="242.1" r="3.3" fill="#bd36f6"/>
<circle cx="314" cy="242.1" r="3.3" fill="#bd36f6"/>
<text x="321.5" y="245.8" font-size="12.5" text-anchor="start" fill="#000000" stroke="#000000" stroke-width="0.22">Nb<tspan font-size="8.4" dy="2.8">4</tspan><tspan dy="-2.8">​</tspan>C<tspan font-size="8.4" dy="2.8">3</tspan><tspan dy="-2.8">​</tspan></text>
<line x1="297.5" y1="256.9" x2="314" y2="256.9" stroke="#0c0c62" stroke-width="1.3"/>
<circle cx="297.5" cy="256.9" r="3.3" fill="#0c0c62"/>
<circle cx="314" cy="256.9" r="3.3" fill="#0c0c62"/>
<text x="321.5" y="260.6" font-size="12.5" text-anchor="start" fill="#000000" stroke="#000000" stroke-width="0.22">Ta<tspan font-size="8.4" dy="2.8">4</tspan><tspan dy="-2.8">​</tspan>C<tspan font-size="8.4" dy="2.8">3</tspan><tspan dy="-2.8">​</tspan></text>
<line x1="511.3" y1="210.3" x2="527.4" y2="210.3" stroke="#2a88f8" stroke-width="1.3"/>
<circle cx="511.3" cy="210.3" r="2.6" fill="#fff" stroke="#2a88f8" stroke-width="1.25"/>
<circle cx="527.4" cy="210.3" r="2.6" fill="#fff" stroke="#2a88f8" stroke-width="1.25"/>
<text x="534.5" y="214" font-size="12.5" text-anchor="start" fill="#000000" stroke="#000000" stroke-width="0.22">Ti<tspan font-size="8.4" dy="2.8">2</tspan><tspan dy="-2.8">​</tspan>C</text>
<line x1="511.3" y1="230.9" x2="527.4" y2="230.9" stroke="#2a88f8" stroke-width="1.3"/>
<path d="M507.7 230.9L514.9 230.9M508.75 228.35L513.85 233.45M511.3 227.3L511.3 234.5M513.85 228.35L508.75 233.45" stroke="#2a88f8" stroke-width="1.25" fill="none"/>
<path d="M523.8 230.9L531 230.9M524.85 228.35L529.95 233.45M527.4 227.3L527.4 234.5M529.95 228.35L524.85 233.45" stroke="#2a88f8" stroke-width="1.25" fill="none"/>
<text x="534.5" y="234.6" font-size="12.5" text-anchor="start" fill="#000000" stroke="#000000" stroke-width="0.22">Ti<tspan font-size="8.4" dy="2.8">3</tspan><tspan dy="-2.8">​</tspan>C<tspan font-size="8.4" dy="2.8">2</tspan><tspan dy="-2.8">​</tspan></text>
<line x1="511.3" y1="251.8" x2="527.4" y2="251.8" stroke="#2a88f8" stroke-width="1.3"/>
<circle cx="511.3" cy="251.8" r="3.3" fill="#2a88f8"/>
<circle cx="527.4" cy="251.8" r="3.3" fill="#2a88f8"/>
<text x="534.5" y="255.5" font-size="12.5" text-anchor="start" fill="#000000" stroke="#000000" stroke-width="0.22">Ti<tspan font-size="8.4" dy="2.8">4</tspan><tspan dy="-2.8">​</tspan>C<tspan font-size="8.4" dy="2.8">3</tspan><tspan dy="-2.8">​</tspan></text>
<line x1="89.1" y1="506.4" x2="105.5" y2="506.4" stroke="#9a9ad2" stroke-width="1.3"/>
<circle cx="89.1" cy="506.4" r="2.6" fill="#fff" stroke="#9a9ad2" stroke-width="1.25"/>
<circle cx="105.5" cy="506.4" r="2.6" fill="#fff" stroke="#9a9ad2" stroke-width="1.25"/>
<text x="113" y="510.1" font-size="12.5" text-anchor="start" fill="#000000" stroke="#000000" stroke-width="0.22">Ti<tspan font-size="8.4" dy="2.8">2</tspan><tspan dy="-2.8">​</tspan>N</text>
<line x1="89.1" y1="521.7" x2="105.5" y2="521.7" stroke="#2a88f8" stroke-width="1.3"/>
<circle cx="89.1" cy="521.7" r="2.6" fill="#fff" stroke="#2a88f8" stroke-width="1.25"/>
<circle cx="105.5" cy="521.7" r="2.6" fill="#fff" stroke="#2a88f8" stroke-width="1.25"/>
<text x="113" y="525.4" font-size="12.5" text-anchor="start" fill="#000000" stroke="#000000" stroke-width="0.22">Ti<tspan font-size="8.4" dy="2.8">2</tspan><tspan dy="-2.8">​</tspan>C</text>
<line x1="89.1" y1="536.6" x2="105.5" y2="536.6" stroke="#e27a14" stroke-width="1.3"/>
<circle cx="89.1" cy="536.6" r="2.6" fill="#fff" stroke="#e27a14" stroke-width="1.25"/>
<circle cx="105.5" cy="536.6" r="2.6" fill="#fff" stroke="#e27a14" stroke-width="1.25"/>
<text x="113" y="540.3" font-size="12.5" text-anchor="start" fill="#000000" stroke="#000000" stroke-width="0.22">V<tspan font-size="8.4" dy="2.8">2</tspan><tspan dy="-2.8">​</tspan>C</text>
<line x1="89.1" y1="551.8" x2="105.5" y2="551.8" stroke="#bd36f6" stroke-width="1.3"/>
<circle cx="89.1" cy="551.8" r="2.6" fill="#fff" stroke="#bd36f6" stroke-width="1.25"/>
<circle cx="105.5" cy="551.8" r="2.6" fill="#fff" stroke="#bd36f6" stroke-width="1.25"/>
<text x="113" y="555.5" font-size="12.5" text-anchor="start" fill="#000000" stroke="#000000" stroke-width="0.22">Nb<tspan font-size="8.4" dy="2.8">2</tspan><tspan dy="-2.8">​</tspan>C</text>
<line x1="89.1" y1="566.9" x2="105.5" y2="566.9" stroke="#14147a" stroke-width="1.3"/>
<circle cx="89.1" cy="566.9" r="2.6" fill="#fff" stroke="#14147a" stroke-width="1.25"/>
<circle cx="105.5" cy="566.9" r="2.6" fill="#fff" stroke="#14147a" stroke-width="1.25"/>
<text x="113" y="570.6" font-size="12.5" text-anchor="start" fill="#000000" stroke="#000000" stroke-width="0.22">Ta<tspan font-size="8.4" dy="2.8">2</tspan><tspan dy="-2.8">​</tspan>C</text>
<line x1="296.9" y1="502.8" x2="313.3" y2="502.8" stroke="#9a9ad2" stroke-width="1.3"/>
<circle cx="296.9" cy="502.8" r="3.3" fill="#9a9ad2"/>
<circle cx="313.3" cy="502.8" r="3.3" fill="#9a9ad2"/>
<text x="320.6" y="506.5" font-size="12.5" text-anchor="start" fill="#000000" stroke="#000000" stroke-width="0.22">Ti<tspan font-size="8.4" dy="2.8">4</tspan><tspan dy="-2.8">​</tspan>N<tspan font-size="8.4" dy="2.8">3</tspan><tspan dy="-2.8">​</tspan></text>
<line x1="296.9" y1="518.3" x2="313.3" y2="518.3" stroke="#2a88f8" stroke-width="1.3"/>
<circle cx="296.9" cy="518.3" r="3.3" fill="#2a88f8"/>
<circle cx="313.3" cy="518.3" r="3.3" fill="#2a88f8"/>
<text x="320.6" y="522" font-size="12.5" text-anchor="start" fill="#000000" stroke="#000000" stroke-width="0.22">Ti<tspan font-size="8.4" dy="2.8">4</tspan><tspan dy="-2.8">​</tspan>C<tspan font-size="8.4" dy="2.8">3</tspan><tspan dy="-2.8">​</tspan></text>
<line x1="296.9" y1="533.1" x2="313.3" y2="533.1" stroke="#e27a14" stroke-width="1.3"/>
<circle cx="296.9" cy="533.1" r="3.3" fill="#e27a14"/>
<circle cx="313.3" cy="533.1" r="3.3" fill="#e27a14"/>
<text x="320.6" y="536.8" font-size="12.5" text-anchor="start" fill="#000000" stroke="#000000" stroke-width="0.22">V<tspan font-size="8.4" dy="2.8">4</tspan><tspan dy="-2.8">​</tspan>C<tspan font-size="8.4" dy="2.8">3</tspan><tspan dy="-2.8">​</tspan></text>
<line x1="296.9" y1="548.5" x2="313.3" y2="548.5" stroke="#bd36f6" stroke-width="1.3"/>
<circle cx="296.9" cy="548.5" r="3.3" fill="#bd36f6"/>
<circle cx="313.3" cy="548.5" r="3.3" fill="#bd36f6"/>
<text x="320.6" y="552.2" font-size="12.5" text-anchor="start" fill="#000000" stroke="#000000" stroke-width="0.22">Nb<tspan font-size="8.4" dy="2.8">4</tspan><tspan dy="-2.8">​</tspan>C<tspan font-size="8.4" dy="2.8">3</tspan><tspan dy="-2.8">​</tspan></text>
<line x1="296.9" y1="563.3" x2="313.3" y2="563.3" stroke="#0c0c62" stroke-width="1.3"/>
<circle cx="296.9" cy="563.3" r="3.3" fill="#0c0c62"/>
<circle cx="313.3" cy="563.3" r="3.3" fill="#0c0c62"/>
<text x="320.6" y="567" font-size="12.5" text-anchor="start" fill="#000000" stroke="#000000" stroke-width="0.22">Ta<tspan font-size="8.4" dy="2.8">4</tspan><tspan dy="-2.8">​</tspan>C<tspan font-size="8.4" dy="2.8">3</tspan><tspan dy="-2.8">​</tspan></text>
<line x1="512" y1="521.5" x2="527.9" y2="521.5" stroke="#2a88f8" stroke-width="1.3"/>
<circle cx="512" cy="521.5" r="2.6" fill="#fff" stroke="#2a88f8" stroke-width="1.25"/>
<circle cx="527.9" cy="521.5" r="2.6" fill="#fff" stroke="#2a88f8" stroke-width="1.25"/>
<text x="535" y="525.2" font-size="12.5" text-anchor="start" fill="#000000" stroke="#000000" stroke-width="0.22">Ti<tspan font-size="8.4" dy="2.8">2</tspan><tspan dy="-2.8">​</tspan>C</text>
<line x1="512" y1="542.2" x2="527.9" y2="542.2" stroke="#2a88f8" stroke-width="1.3"/>
<path d="M508.4 542.2L515.6 542.2M509.45 539.65L514.55 544.75M512 538.6L512 545.8M514.55 539.65L509.45 544.75" stroke="#2a88f8" stroke-width="1.25" fill="none"/>
<path d="M524.3 542.2L531.5 542.2M525.35 539.65L530.45 544.75M527.9 538.6L527.9 545.8M530.45 539.65L525.35 544.75" stroke="#2a88f8" stroke-width="1.25" fill="none"/>
<text x="535" y="545.9" font-size="12.5" text-anchor="start" fill="#000000" stroke="#000000" stroke-width="0.22">Ti<tspan font-size="8.4" dy="2.8">3</tspan><tspan dy="-2.8">​</tspan>C<tspan font-size="8.4" dy="2.8">2</tspan><tspan dy="-2.8">​</tspan></text>
<line x1="512" y1="562.8" x2="527.9" y2="562.8" stroke="#2a88f8" stroke-width="1.3"/>
<circle cx="512" cy="562.8" r="3.3" fill="#2a88f8"/>
<circle cx="527.9" cy="562.8" r="3.3" fill="#2a88f8"/>
<text x="535" y="566.5" font-size="12.5" text-anchor="start" fill="#000000" stroke="#000000" stroke-width="0.22">Ti<tspan font-size="8.4" dy="2.8">4</tspan><tspan dy="-2.8">​</tspan>C<tspan font-size="8.4" dy="2.8">3</tspan><tspan dy="-2.8">​</tspan></text>
<text x="0" y="28.6" font-size="27" text-anchor="start" fill="#000000" stroke="#000000" stroke-width="0.22">(a)</text>
<text x="0" y="327.6" font-size="27" text-anchor="start" fill="#000000" stroke="#000000" stroke-width="0.22">(b)</text>
<text x="134.7" y="14.4" font-size="19.3" fill="#000000" stroke="#000000" stroke-width="0.22">μ<tspan font-size="13.3" dy="6.8">Cl</tspan><tspan dy="-6.8"> (eV)</tspan></text>
<text x="343.3" y="14.4" font-size="19.3" fill="#000000" stroke="#000000" stroke-width="0.22">μ<tspan font-size="13.3" dy="6.8">Cl</tspan><tspan dy="-6.8"> (eV)</tspan></text>
<text x="552.1" y="14.4" font-size="19.3" fill="#000000" stroke="#000000" stroke-width="0.22">μ<tspan font-size="13.3" dy="6.8">Cl</tspan><tspan dy="-6.8"> (eV)</tspan></text>
<text x="130.7" y="314.6" font-size="19.3" fill="#000000" stroke="#000000" stroke-width="0.22">μ<tspan font-size="13.5" dy="7.5">BO</tspan><tspan font-size="9.8" dy="5.7">2</tspan><tspan dy="-13.2"> (eV)</tspan></text>
<text x="340.6" y="314.6" font-size="19.3" fill="#000000" stroke="#000000" stroke-width="0.22">μ<tspan font-size="13.5" dy="7.5">BO</tspan><tspan font-size="9.8" dy="5.7">2</tspan><tspan dy="-13.2"> (eV)</tspan></text>
<text x="550.2" y="314.6" font-size="19.3" fill="#000000" stroke="#000000" stroke-width="0.22">μ<tspan font-size="13.5" dy="7.5">BO</tspan><tspan font-size="9.8" dy="5.7">2</tspan><tspan dy="-13.2"> (eV)</tspan></text>
<g transform="translate(20.2 258.8) rotate(-90)" fill="#000000" stroke="#000000" stroke-width="0.22">
<text x="0" y="0" font-size="20">ΔH</text>
<text x="26.1" y="7.6" font-size="15" textLength="21.8" lengthAdjust="spacingAndGlyphs">ads</text>
<text x="52.2" y="0" font-size="20" textLength="139" lengthAdjust="spacingAndGlyphs">(eV/termination)</text>
<text x="31" y="-11.9" font-size="9.9">Cl</text>
</g>
<g transform="translate(21 563.2) rotate(-90)" fill="#000000" stroke="#000000" stroke-width="0.22">
<text x="0" y="0" font-size="20">ΔH</text>
<text x="26" y="9" font-size="15" textLength="21.8" lengthAdjust="spacingAndGlyphs">ads</text>
<text x="54.1" y="0" font-size="20" textLength="139" lengthAdjust="spacingAndGlyphs">(eV/termination)</text>
<text x="30.0" y="-12.5" font-size="10.6">BO<tspan font-size="7.2" dy="2.9">2</tspan></text>
</g></svg></body></html>
